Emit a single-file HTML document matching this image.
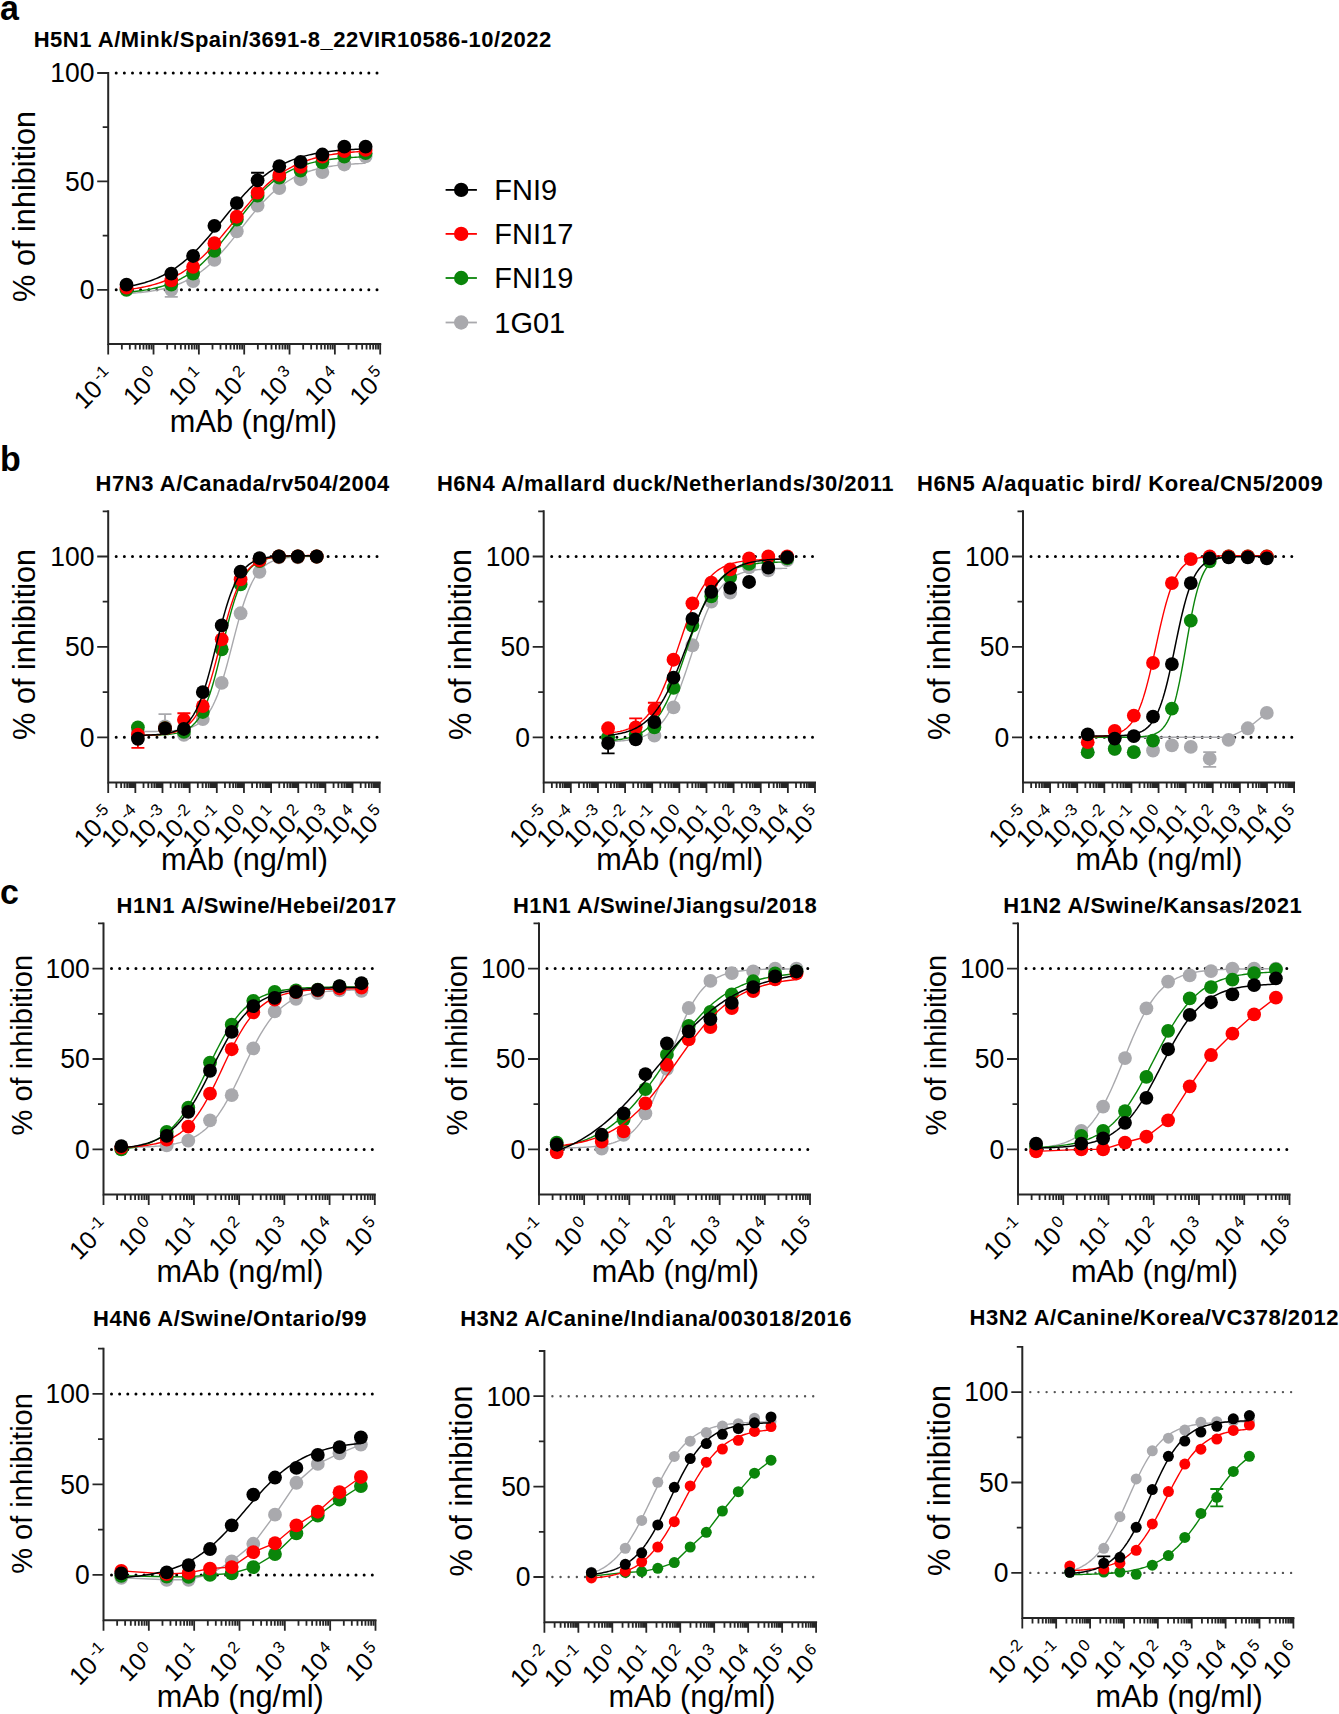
<!DOCTYPE html>
<html><head><meta charset="utf-8"><style>
html,body{margin:0;padding:0;background:#fff;overflow:hidden;}
svg{display:block;}
text{font-family:"Liberation Sans", sans-serif;fill:#000;}
</style></head><body>
<svg width="1339" height="1714" viewBox="0 0 1339 1714">
<line x1="116.2" y1="289.8" x2="381.2" y2="289.8" stroke="#000" stroke-width="3.0" stroke-linecap="round" stroke-dasharray="0 8.15"/>
<line x1="116.2" y1="73" x2="381.2" y2="73" stroke="#000" stroke-width="3.0" stroke-linecap="round" stroke-dasharray="0 8.15"/>
<path d="M108.2 73V344H380.2" fill="none" stroke="#262626" stroke-width="2.0" stroke-linecap="square"/>
<path d="M97.2 289.8H108.2M102.7 235.6H108.2M97.2 181.4H108.2M102.7 127.2H108.2M97.2 73H108.2M108.2 344v10.5M121.85 344v5.5M129.83 344v5.5M135.49 344v5.5M139.89 344v5.5M143.48 344v5.5M146.51 344v5.5M149.14 344v5.5M151.46 344v5.5M153.53 344v10.5M167.18 344v5.5M175.16 344v5.5M180.83 344v5.5M185.22 344v5.5M188.81 344v5.5M191.84 344v5.5M194.47 344v5.5M196.79 344v5.5M198.87 344v10.5M212.51 344v5.5M220.5 344v5.5M226.16 344v5.5M230.55 344v5.5M234.14 344v5.5M237.18 344v5.5M239.81 344v5.5M242.13 344v5.5M244.2 344v10.5M257.85 344v5.5M265.83 344v5.5M271.49 344v5.5M275.89 344v5.5M279.48 344v5.5M282.51 344v5.5M285.14 344v5.5M287.46 344v5.5M289.53 344v10.5M303.18 344v5.5M311.16 344v5.5M316.83 344v5.5M321.22 344v5.5M324.81 344v5.5M327.84 344v5.5M330.47 344v5.5M332.79 344v5.5M334.87 344v10.5M348.51 344v5.5M356.5 344v5.5M362.16 344v5.5M366.55 344v5.5M370.14 344v5.5M373.18 344v5.5M375.81 344v5.5M378.13 344v5.5M380.2 344v10.5" fill="none" stroke="#262626" stroke-width="1.8"/>
<text transform="translate(94.4 299.1) scale(1 1.04)" text-anchor="end" font-size="26.5">0</text>
<text transform="translate(94.4 190.7) scale(1 1.04)" text-anchor="end" font-size="26.5">50</text>
<text transform="translate(94.4 82.3) scale(1 1.04)" text-anchor="end" font-size="26.5">100</text>
<text transform="translate(116.05 378.55) rotate(-45)" text-anchor="end" font-size="25">10<tspan font-size="16.5" dx="2.5" dy="-9.3">-1</tspan></text>
<text transform="translate(161.38 378.55) rotate(-45)" text-anchor="end" font-size="25">10<tspan font-size="16.5" dx="2.5" dy="-9.3">0</tspan></text>
<text transform="translate(206.72 378.55) rotate(-45)" text-anchor="end" font-size="25">10<tspan font-size="16.5" dx="2.5" dy="-9.3">1</tspan></text>
<text transform="translate(252.05 378.55) rotate(-45)" text-anchor="end" font-size="25">10<tspan font-size="16.5" dx="2.5" dy="-9.3">2</tspan></text>
<text transform="translate(297.38 378.55) rotate(-45)" text-anchor="end" font-size="25">10<tspan font-size="16.5" dx="2.5" dy="-9.3">3</tspan></text>
<text transform="translate(342.72 378.55) rotate(-45)" text-anchor="end" font-size="25">10<tspan font-size="16.5" dx="2.5" dy="-9.3">4</tspan></text>
<text transform="translate(388.05 378.55) rotate(-45)" text-anchor="end" font-size="25">10<tspan font-size="16.5" dx="2.5" dy="-9.3">5</tspan></text>
<text x="33.7" y="46.7" font-weight="bold" font-size="22" letter-spacing="0.52">H5N1 A/Mink/Spain/3691-8_22VIR10586-10/2022</text>
<text transform="translate(35.4 206.4) rotate(-90)" text-anchor="middle" font-size="30.7">% of inhibition</text>
<text x="253.4" y="431.7" text-anchor="middle" font-size="30.7">mAb (ng/ml)</text>
<polyline points="126.5,293.61 128.51,293.48 130.52,293.34 132.53,293.19 134.54,293.03 136.55,292.86 138.56,292.67 140.56,292.47 142.57,292.25 144.58,292.02 146.59,291.77 148.6,291.5 150.61,291.21 152.62,290.89 154.63,290.56 156.64,290.2 158.65,289.81 160.66,289.4 162.67,288.95 164.68,288.47 166.68,287.96 168.69,287.41 170.7,286.83 172.71,286.2 174.72,285.53 176.73,284.81 178.74,284.04 180.75,283.23 182.76,282.36 184.77,281.44 186.78,280.45 188.79,279.41 190.8,278.3 192.81,277.13 194.81,275.89 196.82,274.59 198.83,273.21 200.84,271.75 202.85,270.22 204.86,268.62 206.87,266.94 208.88,265.19 210.89,263.36 212.9,261.45 214.91,259.48 216.92,257.43 218.93,255.31 220.93,253.12 222.94,250.87 224.95,248.57 226.96,246.2 228.97,243.8 230.98,241.34 232.99,238.86 235,236.34 237.01,233.8 239.02,231.25 241.03,228.69 243.04,226.12 245.05,223.57 247.05,221.03 249.06,218.52 251.07,216.03 253.08,213.58 255.09,211.17 257.1,208.81 259.11,206.51 261.12,204.26 263.13,202.08 265.14,199.96 267.15,197.91 269.16,195.93 271.17,194.03 273.17,192.2 275.18,190.45 277.19,188.77 279.2,187.17 281.21,185.64 283.22,184.19 285.23,182.81 287.24,181.51 289.25,180.27 291.26,179.1 293.27,177.99 295.28,176.95 297.29,175.97 299.29,175.05 301.3,174.18 303.31,173.37 305.32,172.6 307.33,171.89 309.34,171.22 311.35,170.59 313.36,170 315.37,169.46 317.38,168.95 319.39,168.47 321.4,168.02 323.41,167.61 325.42,167.22 327.42,166.86 329.43,166.53 331.44,166.22 333.45,165.93 335.46,165.66 337.47,165.41 339.48,165.17 341.49,164.96 343.5,164.76 345.51,164.57 347.52,164.4 349.53,164.24 351.54,164.09 353.54,163.95 355.55,163.82 357.56,163.7 359.57,163.59 361.58,163.49 363.59,163.39 365.6,163.3" fill="none" stroke="#a9a9ad" stroke-width="1.4"/>
<path d="M171.3 296.95V289.8M164.8 296.95h13" stroke="#a9a9ad" stroke-width="1.8" fill="none"/>
<circle cx="126.5" cy="288.72" r="6.9" fill="#a9a9ad"/>
<circle cx="171.3" cy="289.8" r="6.9" fill="#a9a9ad"/>
<circle cx="193.1" cy="281.13" r="6.9" fill="#a9a9ad"/>
<circle cx="214.4" cy="259.88" r="6.9" fill="#a9a9ad"/>
<circle cx="236.8" cy="231.26" r="6.9" fill="#a9a9ad"/>
<circle cx="257.6" cy="205.68" r="6.9" fill="#a9a9ad"/>
<circle cx="279.3" cy="188.12" r="6.9" fill="#a9a9ad"/>
<circle cx="300.6" cy="179.23" r="6.9" fill="#a9a9ad"/>
<circle cx="322.4" cy="172.08" r="6.9" fill="#a9a9ad"/>
<circle cx="344.3" cy="164.49" r="6.9" fill="#a9a9ad"/>
<circle cx="365.6" cy="156.47" r="6.9" fill="#a9a9ad"/>
<polyline points="126.5,292.25 128.51,292.07 130.52,291.89 132.53,291.69 134.54,291.48 136.55,291.25 138.56,291 140.56,290.74 142.57,290.45 144.58,290.15 146.59,289.82 148.6,289.46 150.61,289.08 152.62,288.67 154.63,288.23 156.64,287.76 158.65,287.26 160.66,286.72 162.67,286.14 164.68,285.52 166.68,284.86 168.69,284.15 170.7,283.4 172.71,282.59 174.72,281.73 176.73,280.81 178.74,279.84 180.75,278.81 182.76,277.71 184.77,276.54 186.78,275.31 188.79,274.01 190.8,272.63 192.81,271.18 194.81,269.66 196.82,268.05 198.83,266.37 200.84,264.61 202.85,262.77 204.86,260.85 206.87,258.85 208.88,256.78 210.89,254.63 212.9,252.42 214.91,250.13 216.92,247.78 218.93,245.37 220.93,242.91 222.94,240.39 224.95,237.84 226.96,235.24 228.97,232.62 230.98,229.98 232.99,227.32 235,224.65 237.01,221.99 239.02,219.34 241.03,216.7 243.04,214.09 245.05,211.51 247.05,208.97 249.06,206.47 251.07,204.03 253.08,201.64 255.09,199.32 257.1,197.06 259.11,194.86 261.12,192.75 263.13,190.7 265.14,188.74 267.15,186.85 269.16,185.04 271.17,183.31 273.17,181.66 275.18,180.08 277.19,178.59 279.2,177.16 281.21,175.82 283.22,174.54 285.23,173.34 287.24,172.2 289.25,171.12 291.26,170.11 293.27,169.16 295.28,168.27 297.29,167.43 299.29,166.64 301.3,165.91 303.31,165.22 305.32,164.57 307.33,163.97 309.34,163.41 311.35,162.88 313.36,162.39 315.37,161.93 317.38,161.5 319.39,161.11 321.4,160.73 323.41,160.39 325.42,160.07 327.42,159.77 329.43,159.49 331.44,159.24 333.45,159 335.46,158.77 337.47,158.57 339.48,158.37 341.49,158.2 343.5,158.03 345.51,157.88 347.52,157.73 349.53,157.6 351.54,157.48 353.54,157.36 355.55,157.26 357.56,157.16 359.57,157.07 361.58,156.99 363.59,156.91 365.6,156.84" fill="none" stroke="#0a850a" stroke-width="1.4"/>
<circle cx="126.5" cy="289.8" r="6.9" fill="#0a850a"/>
<circle cx="171.3" cy="284.6" r="6.9" fill="#0a850a"/>
<circle cx="193.1" cy="273.54" r="6.9" fill="#0a850a"/>
<circle cx="214.4" cy="250.78" r="6.9" fill="#0a850a"/>
<circle cx="236.8" cy="219.56" r="6.9" fill="#0a850a"/>
<circle cx="257.6" cy="195.71" r="6.9" fill="#0a850a"/>
<circle cx="279.3" cy="177.71" r="6.9" fill="#0a850a"/>
<circle cx="300.6" cy="170.56" r="6.9" fill="#0a850a"/>
<circle cx="322.4" cy="162.32" r="6.9" fill="#0a850a"/>
<circle cx="344.3" cy="156.68" r="6.9" fill="#0a850a"/>
<circle cx="365.6" cy="153.22" r="6.9" fill="#0a850a"/>
<polyline points="126.5,289.75 128.51,289.51 130.52,289.25 132.53,288.97 134.54,288.67 136.55,288.35 138.56,288.01 140.56,287.65 142.57,287.27 144.58,286.86 146.59,286.42 148.6,285.96 150.61,285.46 152.62,284.94 154.63,284.38 156.64,283.79 158.65,283.16 160.66,282.49 162.67,281.78 164.68,281.03 166.68,280.24 168.69,279.4 170.7,278.51 172.71,277.57 174.72,276.58 176.73,275.53 178.74,274.43 180.75,273.28 182.76,272.06 184.77,270.78 186.78,269.44 188.79,268.04 190.8,266.58 192.81,265.04 194.81,263.45 196.82,261.78 198.83,260.06 200.84,258.26 202.85,256.41 204.86,254.48 206.87,252.5 208.88,250.46 210.89,248.36 212.9,246.2 214.91,244 216.92,241.74 218.93,239.44 220.93,237.1 222.94,234.73 224.95,232.32 226.96,229.89 228.97,227.44 230.98,224.98 232.99,222.5 235,220.03 237.01,217.56 239.02,215.1 241.03,212.65 243.04,210.22 245.05,207.82 247.05,205.45 249.06,203.12 251.07,200.83 253.08,198.58 255.09,196.38 257.1,194.24 259.11,192.15 261.12,190.12 263.13,188.14 265.14,186.23 267.15,184.39 269.16,182.61 271.17,180.89 273.17,179.24 275.18,177.66 277.19,176.14 279.2,174.68 281.21,173.29 283.22,171.96 285.23,170.7 287.24,169.49 289.25,168.35 291.26,167.26 293.27,166.22 295.28,165.24 297.29,164.31 299.29,163.43 301.3,162.6 303.31,161.81 305.32,161.07 307.33,160.37 309.34,159.71 311.35,159.09 313.36,158.5 315.37,157.95 317.38,157.43 319.39,156.94 321.4,156.48 323.41,156.05 325.42,155.65 327.42,155.27 329.43,154.91 331.44,154.57 333.45,154.26 335.46,153.97 337.47,153.69 339.48,153.43 341.49,153.19 343.5,152.96 345.51,152.75 347.52,152.55 349.53,152.37 351.54,152.19 353.54,152.03 355.55,151.88 357.56,151.74 359.57,151.6 361.58,151.48 363.59,151.36 365.6,151.25" fill="none" stroke="#ff0000" stroke-width="1.4"/>
<circle cx="126.5" cy="287.63" r="6.9" fill="#ff0000"/>
<circle cx="171.3" cy="280.26" r="6.9" fill="#ff0000"/>
<circle cx="193.1" cy="266.82" r="6.9" fill="#ff0000"/>
<circle cx="214.4" cy="243.19" r="6.9" fill="#ff0000"/>
<circle cx="236.8" cy="216.74" r="6.9" fill="#ff0000"/>
<circle cx="257.6" cy="192.67" r="6.9" fill="#ff0000"/>
<circle cx="279.3" cy="174.9" r="6.9" fill="#ff0000"/>
<circle cx="300.6" cy="166.87" r="6.9" fill="#ff0000"/>
<circle cx="322.4" cy="156.68" r="6.9" fill="#ff0000"/>
<circle cx="344.3" cy="151.05" r="6.9" fill="#ff0000"/>
<circle cx="365.6" cy="149.96" r="6.9" fill="#ff0000"/>
<polyline points="126.5,286.87 128.51,286.51 130.52,286.13 132.53,285.73 134.54,285.3 136.55,284.84 138.56,284.35 140.56,283.83 142.57,283.27 144.58,282.69 146.59,282.06 148.6,281.4 150.61,280.7 152.62,279.96 154.63,279.17 156.64,278.34 158.65,277.46 160.66,276.54 162.67,275.56 164.68,274.53 166.68,273.44 168.69,272.29 170.7,271.09 172.71,269.83 174.72,268.51 176.73,267.12 178.74,265.67 180.75,264.16 182.76,262.58 184.77,260.94 186.78,259.23 188.79,257.46 190.8,255.62 192.81,253.72 194.81,251.75 196.82,249.73 198.83,247.65 200.84,245.51 202.85,243.32 204.86,241.08 206.87,238.8 208.88,236.48 210.89,234.11 212.9,231.72 214.91,229.3 216.92,226.86 218.93,224.4 220.93,221.93 222.94,219.46 224.95,216.98 226.96,214.52 228.97,212.07 230.98,209.63 232.99,207.22 235,204.84 237.01,202.49 239.02,200.18 241.03,197.92 243.04,195.7 245.05,193.53 247.05,191.41 249.06,189.35 251.07,187.36 253.08,185.42 255.09,183.54 257.1,181.73 259.11,179.98 261.12,178.3 263.13,176.68 265.14,175.13 267.15,173.64 269.16,172.22 271.17,170.86 273.17,169.56 275.18,168.32 277.19,167.14 279.2,166.02 281.21,164.96 283.22,163.95 285.23,162.99 287.24,162.08 289.25,161.22 291.26,160.41 293.27,159.64 295.28,158.92 297.29,158.23 299.29,157.59 301.3,156.98 303.31,156.4 305.32,155.87 307.33,155.36 309.34,154.88 311.35,154.43 313.36,154.01 315.37,153.61 317.38,153.24 319.39,152.89 321.4,152.57 323.41,152.26 325.42,151.97 327.42,151.7 329.43,151.45 331.44,151.21 333.45,150.99 335.46,150.78 337.47,150.59 339.48,150.4 341.49,150.23 343.5,150.07 345.51,149.92 347.52,149.78 349.53,149.65 351.54,149.53 353.54,149.42 355.55,149.31 357.56,149.21 359.57,149.11 361.58,149.03 363.59,148.95 365.6,148.87" fill="none" stroke="#000000" stroke-width="1.5"/>
<path d="M257.6 180.32V172.73M251.1 172.73h13" stroke="#000000" stroke-width="1.8" fill="none"/>
<circle cx="126.5" cy="284.6" r="6.9" fill="#000000"/>
<circle cx="171.3" cy="273.54" r="6.9" fill="#000000"/>
<circle cx="193.1" cy="255.98" r="6.9" fill="#000000"/>
<circle cx="214.4" cy="225.84" r="6.9" fill="#000000"/>
<circle cx="236.8" cy="203.08" r="6.9" fill="#000000"/>
<circle cx="257.6" cy="180.32" r="6.9" fill="#000000"/>
<circle cx="279.3" cy="166.22" r="6.9" fill="#000000"/>
<circle cx="300.6" cy="161.89" r="6.9" fill="#000000"/>
<circle cx="322.4" cy="154.52" r="6.9" fill="#000000"/>
<circle cx="344.3" cy="146.71" r="6.9" fill="#000000"/>
<circle cx="365.6" cy="146.71" r="6.9" fill="#000000"/>
<line x1="116.2" y1="737.3" x2="380.7" y2="737.3" stroke="#000" stroke-width="3.0" stroke-linecap="round" stroke-dasharray="0 8.15"/>
<line x1="116.2" y1="556.5" x2="380.7" y2="556.5" stroke="#000" stroke-width="3.0" stroke-linecap="round" stroke-dasharray="0 8.15"/>
<path d="M108.2 511.3V782.5H379.7" fill="none" stroke="#262626" stroke-width="2.0" stroke-linecap="square"/>
<path d="M97.2 737.3H108.2M102.7 692.1H108.2M97.2 646.9H108.2M102.7 601.7H108.2M97.2 556.5H108.2M102.7 511.3H108.2M108.2 782.5v10.5M116.37 782.5v5.5M121.15 782.5v5.5M124.55 782.5v5.5M127.18 782.5v5.5M129.33 782.5v5.5M131.14 782.5v5.5M132.72 782.5v5.5M134.11 782.5v5.5M135.35 782.5v10.5M143.52 782.5v5.5M148.3 782.5v5.5M151.7 782.5v5.5M154.33 782.5v5.5M156.48 782.5v5.5M158.29 782.5v5.5M159.87 782.5v5.5M161.26 782.5v5.5M162.5 782.5v10.5M170.67 782.5v5.5M175.45 782.5v5.5M178.85 782.5v5.5M181.48 782.5v5.5M183.63 782.5v5.5M185.44 782.5v5.5M187.02 782.5v5.5M188.41 782.5v5.5M189.65 782.5v10.5M197.82 782.5v5.5M202.6 782.5v5.5M206 782.5v5.5M208.63 782.5v5.5M210.78 782.5v5.5M212.59 782.5v5.5M214.17 782.5v5.5M215.56 782.5v5.5M216.8 782.5v10.5M224.97 782.5v5.5M229.75 782.5v5.5M233.15 782.5v5.5M235.78 782.5v5.5M237.93 782.5v5.5M239.74 782.5v5.5M241.32 782.5v5.5M242.71 782.5v5.5M243.95 782.5v10.5M252.12 782.5v5.5M256.9 782.5v5.5M260.3 782.5v5.5M262.93 782.5v5.5M265.08 782.5v5.5M266.89 782.5v5.5M268.47 782.5v5.5M269.86 782.5v5.5M271.1 782.5v10.5M279.27 782.5v5.5M284.05 782.5v5.5M287.45 782.5v5.5M290.08 782.5v5.5M292.23 782.5v5.5M294.04 782.5v5.5M295.62 782.5v5.5M297.01 782.5v5.5M298.25 782.5v10.5M306.42 782.5v5.5M311.2 782.5v5.5M314.6 782.5v5.5M317.23 782.5v5.5M319.38 782.5v5.5M321.19 782.5v5.5M322.77 782.5v5.5M324.16 782.5v5.5M325.4 782.5v10.5M333.57 782.5v5.5M338.35 782.5v5.5M341.75 782.5v5.5M344.38 782.5v5.5M346.53 782.5v5.5M348.34 782.5v5.5M349.92 782.5v5.5M351.31 782.5v5.5M352.55 782.5v10.5M360.72 782.5v5.5M365.5 782.5v5.5M368.9 782.5v5.5M371.53 782.5v5.5M373.68 782.5v5.5M375.49 782.5v5.5M377.07 782.5v5.5M378.46 782.5v5.5M379.7 782.5v10.5" fill="none" stroke="#262626" stroke-width="1.8"/>
<text transform="translate(94.4 746.6) scale(1 1.04)" text-anchor="end" font-size="26.5">0</text>
<text transform="translate(94.4 656.2) scale(1 1.04)" text-anchor="end" font-size="26.5">50</text>
<text transform="translate(94.4 565.8) scale(1 1.04)" text-anchor="end" font-size="26.5">100</text>
<text transform="translate(116.05 817.05) rotate(-45)" text-anchor="end" font-size="25">10<tspan font-size="16.5" dx="2.5" dy="-9.3">-5</tspan></text>
<text transform="translate(143.2 817.05) rotate(-45)" text-anchor="end" font-size="25">10<tspan font-size="16.5" dx="2.5" dy="-9.3">-4</tspan></text>
<text transform="translate(170.35 817.05) rotate(-45)" text-anchor="end" font-size="25">10<tspan font-size="16.5" dx="2.5" dy="-9.3">-3</tspan></text>
<text transform="translate(197.5 817.05) rotate(-45)" text-anchor="end" font-size="25">10<tspan font-size="16.5" dx="2.5" dy="-9.3">-2</tspan></text>
<text transform="translate(224.65 817.05) rotate(-45)" text-anchor="end" font-size="25">10<tspan font-size="16.5" dx="2.5" dy="-9.3">-1</tspan></text>
<text transform="translate(251.8 817.05) rotate(-45)" text-anchor="end" font-size="25">10<tspan font-size="16.5" dx="2.5" dy="-9.3">0</tspan></text>
<text transform="translate(278.95 817.05) rotate(-45)" text-anchor="end" font-size="25">10<tspan font-size="16.5" dx="2.5" dy="-9.3">1</tspan></text>
<text transform="translate(306.1 817.05) rotate(-45)" text-anchor="end" font-size="25">10<tspan font-size="16.5" dx="2.5" dy="-9.3">2</tspan></text>
<text transform="translate(333.25 817.05) rotate(-45)" text-anchor="end" font-size="25">10<tspan font-size="16.5" dx="2.5" dy="-9.3">3</tspan></text>
<text transform="translate(360.4 817.05) rotate(-45)" text-anchor="end" font-size="25">10<tspan font-size="16.5" dx="2.5" dy="-9.3">4</tspan></text>
<text transform="translate(387.55 817.05) rotate(-45)" text-anchor="end" font-size="25">10<tspan font-size="16.5" dx="2.5" dy="-9.3">5</tspan></text>
<text x="95.6" y="491.1" font-weight="bold" font-size="22" letter-spacing="0.52">H7N3 A/Canada/rv504/2004</text>
<text transform="translate(35.4 644.4) rotate(-90)" text-anchor="middle" font-size="30.7">% of inhibition</text>
<text x="244.45" y="870.4" text-anchor="middle" font-size="30.7">mAb (ng/ml)</text>
<polyline points="137.9,731.59 139.4,731.58 140.91,731.58 142.41,731.57 143.91,731.56 145.41,731.55 146.92,731.54 148.42,731.53 149.92,731.51 151.42,731.5 152.93,731.48 154.43,731.46 155.93,731.43 157.43,731.41 158.94,731.38 160.44,731.34 161.94,731.3 163.44,731.25 164.95,731.2 166.45,731.14 167.95,731.07 169.45,730.99 170.96,730.9 172.46,730.79 173.96,730.67 175.46,730.54 176.97,730.38 178.47,730.21 179.97,730.01 181.47,729.78 182.98,729.51 184.48,729.22 185.98,728.88 187.48,728.49 188.99,728.05 190.49,727.55 191.99,726.98 193.49,726.34 195,725.6 196.5,724.78 198,723.84 199.5,722.78 201.01,721.58 202.51,720.24 204.01,718.73 205.51,717.03 207.02,715.14 208.52,713.03 210.02,710.68 211.52,708.08 213.03,705.22 214.53,702.07 216.03,698.63 217.53,694.9 219.04,690.86 220.54,686.52 222.04,681.89 223.54,676.99 225.05,671.83 226.55,666.45 228.05,660.89 229.55,655.17 231.06,649.36 232.56,643.5 234.06,637.65 235.56,631.85 237.07,626.16 238.57,620.62 240.07,615.27 241.57,610.16 243.08,605.3 244.58,600.72 246.08,596.44 247.58,592.45 249.09,588.77 250.59,585.38 252.09,582.29 253.59,579.47 255.1,576.91 256.6,574.61 258.1,572.54 259.6,570.68 261.11,569.02 262.61,567.54 264.11,566.22 265.61,565.05 267.12,564.01 268.62,563.09 270.12,562.28 271.62,561.56 273.13,560.93 274.63,560.38 276.13,559.89 277.63,559.46 279.14,559.08 280.64,558.75 282.14,558.45 283.64,558.2 285.15,557.97 286.65,557.78 288.15,557.6 289.65,557.45 291.16,557.32 292.66,557.21 294.16,557.1 295.66,557.01 297.17,556.94 298.67,556.87 300.17,556.81 301.67,556.76 303.18,556.71 304.68,556.67 306.18,556.64 307.68,556.61 309.19,556.58 310.69,556.55 312.19,556.53 313.69,556.52 315.2,556.5 316.7,556.49" fill="none" stroke="#a9a9ad" stroke-width="1.4"/>
<path d="M165 726.45V714.16M158.5 714.16h13" stroke="#a9a9ad" stroke-width="1.8" fill="none"/>
<circle cx="137.9" cy="731.88" r="6.9" fill="#a9a9ad"/>
<circle cx="165" cy="726.45" r="6.9" fill="#a9a9ad"/>
<circle cx="183.9" cy="734.77" r="6.9" fill="#a9a9ad"/>
<circle cx="202.8" cy="719.04" r="6.9" fill="#a9a9ad"/>
<circle cx="221.7" cy="682.88" r="6.9" fill="#a9a9ad"/>
<circle cx="240.6" cy="613.27" r="6.9" fill="#a9a9ad"/>
<circle cx="259.5" cy="571.87" r="6.9" fill="#a9a9ad"/>
<circle cx="278.9" cy="557.4" r="6.9" fill="#a9a9ad"/>
<circle cx="297.8" cy="557.4" r="6.9" fill="#a9a9ad"/>
<circle cx="316.7" cy="556.86" r="6.9" fill="#a9a9ad"/>
<polyline points="137.9,735.43 139.4,735.42 140.91,735.41 142.41,735.4 143.91,735.38 145.41,735.37 146.92,735.35 148.42,735.33 149.92,735.3 151.42,735.27 152.93,735.24 154.43,735.2 155.93,735.15 157.43,735.1 158.94,735.04 160.44,734.98 161.94,734.9 163.44,734.81 164.95,734.71 166.45,734.59 167.95,734.45 169.45,734.29 170.96,734.11 172.46,733.91 173.96,733.67 175.46,733.39 176.97,733.08 178.47,732.72 179.97,732.3 181.47,731.83 182.98,731.29 184.48,730.66 185.98,729.95 187.48,729.14 188.99,728.22 190.49,727.16 191.99,725.97 193.49,724.61 195,723.07 196.5,721.33 198,719.37 199.5,717.18 201.01,714.72 202.51,711.98 204.01,708.93 205.51,705.57 207.02,701.88 208.52,697.85 210.02,693.47 211.52,688.75 213.03,683.7 214.53,678.34 216.03,672.7 217.53,666.82 219.04,660.74 220.54,654.51 222.04,648.19 223.54,641.85 225.05,635.55 226.55,629.36 228.05,623.32 229.55,617.48 231.06,611.91 232.56,606.62 234.06,601.65 235.56,597.01 237.07,592.71 238.57,588.76 240.07,585.15 241.57,581.87 243.08,578.9 244.58,576.23 246.08,573.83 247.58,571.7 249.09,569.79 250.59,568.1 252.09,566.61 253.59,565.29 255.1,564.13 256.6,563.11 258.1,562.21 259.6,561.43 261.11,560.74 262.61,560.14 264.11,559.61 265.61,559.15 267.12,558.75 268.62,558.4 270.12,558.1 271.62,557.83 273.13,557.6 274.63,557.4 276.13,557.23 277.63,557.07 279.14,556.94 280.64,556.83 282.14,556.73 283.64,556.64 285.15,556.56 286.65,556.5 288.15,556.44 289.65,556.39 291.16,556.35 292.66,556.31 294.16,556.28 295.66,556.25 297.17,556.23 298.67,556.21 300.17,556.19 301.67,556.17 303.18,556.16 304.68,556.15 306.18,556.14 307.68,556.13 309.19,556.12 310.69,556.11 312.19,556.11 313.69,556.1 315.2,556.1 316.7,556.09" fill="none" stroke="#0a850a" stroke-width="1.4"/>
<circle cx="137.9" cy="727.36" r="6.9" fill="#0a850a"/>
<circle cx="165" cy="728.26" r="6.9" fill="#0a850a"/>
<circle cx="183.9" cy="731.88" r="6.9" fill="#0a850a"/>
<circle cx="202.8" cy="711.99" r="6.9" fill="#0a850a"/>
<circle cx="221.7" cy="649.25" r="6.9" fill="#0a850a"/>
<circle cx="240.6" cy="584.34" r="6.9" fill="#0a850a"/>
<circle cx="259.5" cy="561.02" r="6.9" fill="#0a850a"/>
<circle cx="278.9" cy="556.5" r="6.9" fill="#0a850a"/>
<circle cx="297.8" cy="556.5" r="6.9" fill="#0a850a"/>
<circle cx="316.7" cy="556.5" r="6.9" fill="#0a850a"/>
<polyline points="137.9,735.35 139.4,735.33 140.91,735.31 142.41,735.28 143.91,735.25 145.41,735.22 146.92,735.18 148.42,735.14 149.92,735.09 151.42,735.04 152.93,734.97 154.43,734.9 155.93,734.82 157.43,734.72 158.94,734.62 160.44,734.49 161.94,734.35 163.44,734.2 164.95,734.02 166.45,733.81 167.95,733.58 169.45,733.32 170.96,733.02 172.46,732.68 173.96,732.29 175.46,731.85 176.97,731.35 178.47,730.79 179.97,730.15 181.47,729.43 182.98,728.62 184.48,727.7 185.98,726.66 187.48,725.5 188.99,724.19 190.49,722.72 191.99,721.08 193.49,719.24 195,717.2 196.5,714.94 198,712.43 199.5,709.67 201.01,706.64 202.51,703.33 204.01,699.72 205.51,695.82 207.02,691.63 208.52,687.14 210.02,682.38 211.52,677.35 213.03,672.09 214.53,666.62 216.03,660.97 217.53,655.2 219.04,649.35 220.54,643.46 222.04,637.59 223.54,631.79 225.05,626.1 226.55,620.57 228.05,615.24 229.55,610.14 231.06,605.29 232.56,600.71 234.06,596.43 235.56,592.44 237.07,588.74 238.57,585.34 240.07,582.22 241.57,579.38 243.08,576.79 244.58,574.45 246.08,572.34 247.58,570.45 249.09,568.75 250.59,567.23 252.09,565.87 253.59,564.66 255.1,563.58 256.6,562.63 258.1,561.78 259.6,561.03 261.11,560.37 262.61,559.78 264.11,559.27 265.61,558.81 267.12,558.41 268.62,558.06 270.12,557.74 271.62,557.47 273.13,557.23 274.63,557.01 276.13,556.83 277.63,556.66 279.14,556.52 280.64,556.39 282.14,556.28 283.64,556.18 285.15,556.1 286.65,556.02 288.15,555.95 289.65,555.9 291.16,555.85 292.66,555.8 294.16,555.76 295.66,555.73 297.17,555.7 298.67,555.67 300.17,555.65 301.67,555.63 303.18,555.61 304.68,555.59 306.18,555.58 307.68,555.57 309.19,555.56 310.69,555.55 312.19,555.54 313.69,555.53 315.2,555.52 316.7,555.52" fill="none" stroke="#ff0000" stroke-width="1.4"/>
<path d="M137.9 747.79V734.59M131.4 747.79h13" stroke="#ff0000" stroke-width="1.8" fill="none"/>
<path d="M183.9 719.76V713.25M177.4 713.25h13" stroke="#ff0000" stroke-width="1.8" fill="none"/>
<circle cx="137.9" cy="734.59" r="6.9" fill="#ff0000"/>
<circle cx="165" cy="728.44" r="6.9" fill="#ff0000"/>
<circle cx="183.9" cy="719.76" r="6.9" fill="#ff0000"/>
<circle cx="202.8" cy="706.2" r="6.9" fill="#ff0000"/>
<circle cx="221.7" cy="639.31" r="6.9" fill="#ff0000"/>
<circle cx="240.6" cy="579.28" r="6.9" fill="#ff0000"/>
<circle cx="259.5" cy="560.48" r="6.9" fill="#ff0000"/>
<circle cx="278.9" cy="556.5" r="6.9" fill="#ff0000"/>
<circle cx="297.8" cy="556.5" r="6.9" fill="#ff0000"/>
<circle cx="316.7" cy="556.5" r="6.9" fill="#ff0000"/>
<polyline points="137.9,735.28 139.4,735.26 140.91,735.23 142.41,735.2 143.91,735.17 145.41,735.13 146.92,735.09 148.42,735.04 149.92,734.98 151.42,734.91 152.93,734.84 154.43,734.75 155.93,734.65 157.43,734.54 158.94,734.41 160.44,734.26 161.94,734.09 163.44,733.9 164.95,733.68 166.45,733.43 167.95,733.14 169.45,732.81 170.96,732.44 172.46,732.01 173.96,731.53 175.46,730.97 176.97,730.34 178.47,729.63 179.97,728.82 181.47,727.9 182.98,726.86 184.48,725.68 185.98,724.35 187.48,722.85 188.99,721.17 190.49,719.29 191.99,717.18 193.49,714.84 195,712.24 196.5,709.36 198,706.19 199.5,702.72 201.01,698.93 202.51,694.83 204.01,690.41 205.51,685.69 207.02,680.67 208.52,675.38 210.02,669.84 211.52,664.1 213.03,658.19 214.53,652.17 216.03,646.1 217.53,640.01 219.04,633.98 220.54,628.05 222.04,622.27 223.54,616.69 225.05,611.35 226.55,606.28 228.05,601.5 229.55,597.02 231.06,592.86 232.56,589.02 234.06,585.49 235.56,582.27 237.07,579.34 238.57,576.68 240.07,574.29 241.57,572.14 243.08,570.22 244.58,568.5 246.08,566.97 247.58,565.62 249.09,564.41 250.59,563.35 252.09,562.4 253.59,561.57 255.1,560.84 256.6,560.2 258.1,559.63 259.6,559.13 261.11,558.7 262.61,558.31 264.11,557.98 265.61,557.68 267.12,557.42 268.62,557.2 270.12,557 271.62,556.83 273.13,556.67 274.63,556.54 276.13,556.43 277.63,556.33 279.14,556.24 280.64,556.16 282.14,556.09 283.64,556.03 285.15,555.98 286.65,555.94 288.15,555.9 289.65,555.86 291.16,555.83 292.66,555.81 294.16,555.78 295.66,555.76 297.17,555.74 298.67,555.73 300.17,555.72 301.67,555.7 303.18,555.69 304.68,555.69 306.18,555.68 307.68,555.67 309.19,555.66 310.69,555.66 312.19,555.66 313.69,555.65 315.2,555.65 316.7,555.64" fill="none" stroke="#000000" stroke-width="1.5"/>
<circle cx="137.9" cy="738.75" r="6.9" fill="#000000"/>
<circle cx="165" cy="728.44" r="6.9" fill="#000000"/>
<circle cx="183.9" cy="728.98" r="6.9" fill="#000000"/>
<circle cx="202.8" cy="692.1" r="6.9" fill="#000000"/>
<circle cx="221.7" cy="625.38" r="6.9" fill="#000000"/>
<circle cx="240.6" cy="571.69" r="6.9" fill="#000000"/>
<circle cx="259.5" cy="558.13" r="6.9" fill="#000000"/>
<circle cx="278.9" cy="556.5" r="6.9" fill="#000000"/>
<circle cx="297.8" cy="556.5" r="6.9" fill="#000000"/>
<circle cx="316.7" cy="556.5" r="6.9" fill="#000000"/>
<line x1="551.7" y1="737.3" x2="816" y2="737.3" stroke="#000" stroke-width="3.0" stroke-linecap="round" stroke-dasharray="0 8.15"/>
<line x1="551.7" y1="556.5" x2="816" y2="556.5" stroke="#000" stroke-width="3.0" stroke-linecap="round" stroke-dasharray="0 8.15"/>
<path d="M543.7 511.3V782.5H815" fill="none" stroke="#262626" stroke-width="2.0" stroke-linecap="square"/>
<path d="M532.7 737.3H543.7M538.2 692.1H543.7M532.7 646.9H543.7M538.2 601.7H543.7M532.7 556.5H543.7M538.2 511.3H543.7M543.7 782.5v10.5M551.87 782.5v5.5M556.64 782.5v5.5M560.03 782.5v5.5M562.66 782.5v5.5M564.81 782.5v5.5M566.63 782.5v5.5M568.2 782.5v5.5M569.59 782.5v5.5M570.83 782.5v10.5M579 782.5v5.5M583.77 782.5v5.5M587.16 782.5v5.5M589.79 782.5v5.5M591.94 782.5v5.5M593.76 782.5v5.5M595.33 782.5v5.5M596.72 782.5v5.5M597.96 782.5v10.5M606.13 782.5v5.5M610.9 782.5v5.5M614.29 782.5v5.5M616.92 782.5v5.5M619.07 782.5v5.5M620.89 782.5v5.5M622.46 782.5v5.5M623.85 782.5v5.5M625.09 782.5v10.5M633.26 782.5v5.5M638.03 782.5v5.5M641.42 782.5v5.5M644.05 782.5v5.5M646.2 782.5v5.5M648.02 782.5v5.5M649.59 782.5v5.5M650.98 782.5v5.5M652.22 782.5v10.5M660.39 782.5v5.5M665.16 782.5v5.5M668.55 782.5v5.5M671.18 782.5v5.5M673.33 782.5v5.5M675.15 782.5v5.5M676.72 782.5v5.5M678.11 782.5v5.5M679.35 782.5v10.5M687.52 782.5v5.5M692.29 782.5v5.5M695.68 782.5v5.5M698.31 782.5v5.5M700.46 782.5v5.5M702.28 782.5v5.5M703.85 782.5v5.5M705.24 782.5v5.5M706.48 782.5v10.5M714.65 782.5v5.5M719.42 782.5v5.5M722.81 782.5v5.5M725.44 782.5v5.5M727.59 782.5v5.5M729.41 782.5v5.5M730.98 782.5v5.5M732.37 782.5v5.5M733.61 782.5v10.5M741.78 782.5v5.5M746.55 782.5v5.5M749.94 782.5v5.5M752.57 782.5v5.5M754.72 782.5v5.5M756.54 782.5v5.5M758.11 782.5v5.5M759.5 782.5v5.5M760.74 782.5v10.5M768.91 782.5v5.5M773.68 782.5v5.5M777.07 782.5v5.5M779.7 782.5v5.5M781.85 782.5v5.5M783.67 782.5v5.5M785.24 782.5v5.5M786.63 782.5v5.5M787.87 782.5v10.5M796.04 782.5v5.5M800.81 782.5v5.5M804.2 782.5v5.5M806.83 782.5v5.5M808.98 782.5v5.5M810.8 782.5v5.5M812.37 782.5v5.5M813.76 782.5v5.5M815 782.5v10.5" fill="none" stroke="#262626" stroke-width="1.8"/>
<text transform="translate(529.9 746.6) scale(1 1.04)" text-anchor="end" font-size="26.5">0</text>
<text transform="translate(529.9 656.2) scale(1 1.04)" text-anchor="end" font-size="26.5">50</text>
<text transform="translate(529.9 565.8) scale(1 1.04)" text-anchor="end" font-size="26.5">100</text>
<text transform="translate(551.55 817.05) rotate(-45)" text-anchor="end" font-size="25">10<tspan font-size="16.5" dx="2.5" dy="-9.3">-5</tspan></text>
<text transform="translate(578.68 817.05) rotate(-45)" text-anchor="end" font-size="25">10<tspan font-size="16.5" dx="2.5" dy="-9.3">-4</tspan></text>
<text transform="translate(605.81 817.05) rotate(-45)" text-anchor="end" font-size="25">10<tspan font-size="16.5" dx="2.5" dy="-9.3">-3</tspan></text>
<text transform="translate(632.94 817.05) rotate(-45)" text-anchor="end" font-size="25">10<tspan font-size="16.5" dx="2.5" dy="-9.3">-2</tspan></text>
<text transform="translate(660.07 817.05) rotate(-45)" text-anchor="end" font-size="25">10<tspan font-size="16.5" dx="2.5" dy="-9.3">-1</tspan></text>
<text transform="translate(687.2 817.05) rotate(-45)" text-anchor="end" font-size="25">10<tspan font-size="16.5" dx="2.5" dy="-9.3">0</tspan></text>
<text transform="translate(714.33 817.05) rotate(-45)" text-anchor="end" font-size="25">10<tspan font-size="16.5" dx="2.5" dy="-9.3">1</tspan></text>
<text transform="translate(741.46 817.05) rotate(-45)" text-anchor="end" font-size="25">10<tspan font-size="16.5" dx="2.5" dy="-9.3">2</tspan></text>
<text transform="translate(768.59 817.05) rotate(-45)" text-anchor="end" font-size="25">10<tspan font-size="16.5" dx="2.5" dy="-9.3">3</tspan></text>
<text transform="translate(795.72 817.05) rotate(-45)" text-anchor="end" font-size="25">10<tspan font-size="16.5" dx="2.5" dy="-9.3">4</tspan></text>
<text transform="translate(822.85 817.05) rotate(-45)" text-anchor="end" font-size="25">10<tspan font-size="16.5" dx="2.5" dy="-9.3">5</tspan></text>
<text x="436.9" y="491.2" font-weight="bold" font-size="22" letter-spacing="0.52">H6N4 A/mallard duck/Netherlands/30/2011</text>
<text transform="translate(470.9 644.4) rotate(-90)" text-anchor="middle" font-size="30.7">% of inhibition</text>
<text x="679.75" y="870.4" text-anchor="middle" font-size="30.7">mAb (ng/ml)</text>
<polyline points="608.1,741.68 609.61,741.63 611.11,741.57 612.62,741.5 614.12,741.42 615.63,741.34 617.13,741.24 618.64,741.14 620.14,741.02 621.65,740.89 623.15,740.75 624.66,740.59 626.16,740.42 627.67,740.22 629.17,740 630.68,739.77 632.18,739.5 633.69,739.21 635.19,738.88 636.7,738.52 638.2,738.12 639.71,737.68 641.21,737.19 642.72,736.65 644.22,736.05 645.73,735.39 647.23,734.67 648.74,733.87 650.24,732.99 651.75,732.03 653.25,730.97 654.76,729.8 656.26,728.53 657.77,727.14 659.27,725.62 660.78,723.96 662.28,722.16 663.79,720.21 665.29,718.1 666.8,715.82 668.3,713.36 669.81,710.73 671.31,707.91 672.82,704.9 674.32,701.71 675.83,698.33 677.33,694.77 678.84,691.03 680.34,687.13 681.85,683.07 683.35,678.87 684.86,674.55 686.36,670.13 687.87,665.62 689.37,661.06 690.88,656.47 692.38,651.86 693.89,647.28 695.39,642.74 696.9,638.27 698.4,633.89 699.91,629.62 701.41,625.48 702.92,621.48 704.42,617.65 705.93,613.99 707.43,610.5 708.94,607.2 710.44,604.09 711.95,601.17 713.45,598.43 714.96,595.87 716.46,593.49 717.97,591.28 719.47,589.24 720.98,587.35 722.48,585.62 723.99,584.02 725.49,582.56 727,581.22 728.5,579.99 730.01,578.87 731.51,577.86 733.02,576.93 734.52,576.09 736.03,575.32 737.53,574.62 739.04,573.99 740.54,573.42 742.05,572.91 743.55,572.44 745.06,572.01 746.56,571.63 748.07,571.29 749.57,570.97 751.08,570.69 752.58,570.44 754.09,570.21 755.59,570 757.1,569.82 758.6,569.65 760.11,569.5 761.61,569.36 763.12,569.24 764.62,569.13 766.13,569.03 767.63,568.94 769.14,568.85 770.64,568.78 772.15,568.72 773.65,568.66 775.16,568.6 776.66,568.56 778.17,568.51 779.67,568.47 781.18,568.44 782.68,568.41 784.19,568.38 785.69,568.35 787.2,568.33" fill="none" stroke="#a9a9ad" stroke-width="1.4"/>
<circle cx="608.1" cy="737.3" r="6.9" fill="#a9a9ad"/>
<circle cx="635.7" cy="737.3" r="6.9" fill="#a9a9ad"/>
<circle cx="654.4" cy="735.67" r="6.9" fill="#a9a9ad"/>
<circle cx="673.5" cy="707.47" r="6.9" fill="#a9a9ad"/>
<circle cx="692.4" cy="645.27" r="6.9" fill="#a9a9ad"/>
<circle cx="711.3" cy="601.7" r="6.9" fill="#a9a9ad"/>
<circle cx="730.2" cy="592.66" r="6.9" fill="#a9a9ad"/>
<circle cx="749.1" cy="567.35" r="6.9" fill="#a9a9ad"/>
<circle cx="768.3" cy="570.42" r="6.9" fill="#a9a9ad"/>
<circle cx="787.2" cy="560.12" r="6.9" fill="#a9a9ad"/>
<polyline points="608.1,740.73 609.61,740.62 611.11,740.49 612.62,740.36 614.12,740.21 615.63,740.04 617.13,739.86 618.64,739.66 620.14,739.44 621.65,739.19 623.15,738.92 624.66,738.63 626.16,738.3 627.67,737.95 629.17,737.56 630.68,737.13 632.18,736.65 633.69,736.13 635.19,735.57 636.7,734.94 638.2,734.26 639.71,733.51 641.21,732.7 642.72,731.81 644.22,730.83 645.73,729.77 647.23,728.62 648.74,727.36 650.24,725.99 651.75,724.51 653.25,722.91 654.76,721.18 656.26,719.31 657.77,717.29 659.27,715.13 660.78,712.81 662.28,710.34 663.79,707.7 665.29,704.89 666.8,701.91 668.3,698.77 669.81,695.46 671.31,691.99 672.82,688.37 674.32,684.59 675.83,680.68 677.33,676.65 678.84,672.5 680.34,668.25 681.85,663.93 683.35,659.56 684.86,655.14 686.36,650.71 687.87,646.28 689.37,641.88 690.88,637.53 692.38,633.25 693.89,629.05 695.39,624.95 696.9,620.97 698.4,617.13 699.91,613.42 701.41,609.87 702.92,606.48 704.42,603.25 705.93,600.19 707.43,597.29 708.94,594.57 710.44,592 711.95,589.6 713.45,587.36 714.96,585.27 716.46,583.33 717.97,581.53 719.47,579.86 720.98,578.31 722.48,576.89 723.99,575.58 725.49,574.37 727,573.26 728.5,572.24 730.01,571.31 731.51,570.45 733.02,569.67 734.52,568.96 736.03,568.3 737.53,567.71 739.04,567.16 740.54,566.67 742.05,566.22 743.55,565.81 745.06,565.43 746.56,565.09 748.07,564.78 749.57,564.5 751.08,564.24 752.58,564.01 754.09,563.8 755.59,563.61 757.1,563.43 758.6,563.27 760.11,563.13 761.61,563 763.12,562.88 764.62,562.77 766.13,562.68 767.63,562.59 769.14,562.51 770.64,562.43 772.15,562.37 773.65,562.31 775.16,562.25 776.66,562.2 778.17,562.16 779.67,562.12 781.18,562.08 782.68,562.05 784.19,562.02 785.69,561.99 787.2,561.97" fill="none" stroke="#0a850a" stroke-width="1.4"/>
<circle cx="608.1" cy="737.3" r="6.9" fill="#0a850a"/>
<circle cx="635.7" cy="734.59" r="6.9" fill="#0a850a"/>
<circle cx="654.4" cy="727.36" r="6.9" fill="#0a850a"/>
<circle cx="673.5" cy="687.94" r="6.9" fill="#0a850a"/>
<circle cx="692.4" cy="625.57" r="6.9" fill="#0a850a"/>
<circle cx="711.3" cy="596.28" r="6.9" fill="#0a850a"/>
<circle cx="730.2" cy="577.11" r="6.9" fill="#0a850a"/>
<circle cx="749.1" cy="563.91" r="6.9" fill="#0a850a"/>
<circle cx="768.3" cy="560.12" r="6.9" fill="#0a850a"/>
<circle cx="787.2" cy="558.31" r="6.9" fill="#0a850a"/>
<polyline points="608.1,733.13 609.61,732.98 611.11,732.81 612.62,732.62 614.12,732.41 615.63,732.17 617.13,731.92 618.64,731.63 620.14,731.32 621.65,730.97 623.15,730.59 624.66,730.17 626.16,729.71 627.67,729.2 629.17,728.64 630.68,728.02 632.18,727.34 633.69,726.59 635.19,725.77 636.7,724.87 638.2,723.89 639.71,722.81 641.21,721.63 642.72,720.35 644.22,718.95 645.73,717.43 647.23,715.77 648.74,713.98 650.24,712.04 651.75,709.95 653.25,707.7 654.76,705.28 656.26,702.69 657.77,699.93 659.27,696.99 660.78,693.88 662.28,690.58 663.79,687.12 665.29,683.49 666.8,679.7 668.3,675.76 669.81,671.69 671.31,667.49 672.82,663.2 674.32,658.82 675.83,654.38 677.33,649.9 678.84,645.4 680.34,640.92 681.85,636.46 683.35,632.06 684.86,627.73 686.36,623.5 687.87,619.38 689.37,615.39 690.88,611.54 692.38,607.86 693.89,604.33 695.39,600.98 696.9,597.8 698.4,594.79 699.91,591.97 701.41,589.32 702.92,586.84 704.42,584.53 705.93,582.38 707.43,580.39 708.94,578.54 710.44,576.84 711.95,575.27 713.45,573.83 714.96,572.5 716.46,571.29 717.97,570.18 719.47,569.16 720.98,568.23 722.48,567.38 723.99,566.61 725.49,565.91 727,565.27 728.5,564.69 730.01,564.16 731.51,563.68 733.02,563.25 734.52,562.85 736.03,562.49 737.53,562.17 739.04,561.87 740.54,561.61 742.05,561.37 743.55,561.15 745.06,560.95 746.56,560.77 748.07,560.61 749.57,560.47 751.08,560.34 752.58,560.22 754.09,560.11 755.59,560.01 757.1,559.92 758.6,559.84 760.11,559.77 761.61,559.71 763.12,559.65 764.62,559.6 766.13,559.55 767.63,559.5 769.14,559.47 770.64,559.43 772.15,559.4 773.65,559.37 775.16,559.34 776.66,559.32 778.17,559.3 779.67,559.28 781.18,559.26 782.68,559.25 784.19,559.23 785.69,559.22 787.2,559.21" fill="none" stroke="#ff0000" stroke-width="1.4"/>
<path d="M635.7 727.36V718.32M629.2 718.32h13" stroke="#ff0000" stroke-width="1.8" fill="none"/>
<path d="M654.4 709.64V702.77M647.9 702.77h13" stroke="#ff0000" stroke-width="1.8" fill="none"/>
<circle cx="608.1" cy="728.26" r="6.9" fill="#ff0000"/>
<circle cx="635.7" cy="727.36" r="6.9" fill="#ff0000"/>
<circle cx="654.4" cy="709.64" r="6.9" fill="#ff0000"/>
<circle cx="673.5" cy="659.74" r="6.9" fill="#ff0000"/>
<circle cx="692.4" cy="603.33" r="6.9" fill="#ff0000"/>
<circle cx="711.3" cy="582.54" r="6.9" fill="#ff0000"/>
<circle cx="730.2" cy="569.34" r="6.9" fill="#ff0000"/>
<circle cx="749.1" cy="558.31" r="6.9" fill="#ff0000"/>
<circle cx="768.3" cy="556.5" r="6.9" fill="#ff0000"/>
<circle cx="787.2" cy="556.5" r="6.9" fill="#ff0000"/>
<polyline points="608.1,735.4 609.61,735.23 611.11,735.04 612.62,734.84 614.12,734.62 615.63,734.38 617.13,734.12 618.64,733.83 620.14,733.52 621.65,733.18 623.15,732.81 624.66,732.41 626.16,731.98 627.67,731.51 629.17,731 630.68,730.44 632.18,729.84 633.69,729.19 635.19,728.48 636.7,727.72 638.2,726.89 639.71,726 641.21,725.03 642.72,723.99 644.22,722.87 645.73,721.67 647.23,720.37 648.74,718.98 650.24,717.49 651.75,715.89 653.25,714.18 654.76,712.36 656.26,710.42 657.77,708.36 659.27,706.17 660.78,703.85 662.28,701.4 663.79,698.82 665.29,696.11 666.8,693.26 668.3,690.29 669.81,687.19 671.31,683.97 672.82,680.63 674.32,677.19 675.83,673.64 677.33,670 678.84,666.28 680.34,662.5 681.85,658.66 683.35,654.78 684.86,650.87 686.36,646.95 687.87,643.04 689.37,639.14 690.88,635.27 692.38,631.46 693.89,627.7 695.39,624.02 696.9,620.42 698.4,616.91 699.91,613.51 701.41,610.22 702.92,607.06 704.42,604.01 705.93,601.09 707.43,598.31 708.94,595.65 710.44,593.13 711.95,590.74 713.45,588.47 714.96,586.34 716.46,584.33 717.97,582.44 719.47,580.67 720.98,579.01 722.48,577.46 723.99,576.01 725.49,574.66 727,573.41 728.5,572.24 730.01,571.16 731.51,570.15 733.02,569.22 734.52,568.35 736.03,567.55 737.53,566.81 739.04,566.13 740.54,565.5 742.05,564.92 743.55,564.39 745.06,563.89 746.56,563.44 748.07,563.02 749.57,562.63 751.08,562.28 752.58,561.95 754.09,561.65 755.59,561.38 757.1,561.12 758.6,560.89 760.11,560.68 761.61,560.48 763.12,560.3 764.62,560.13 766.13,559.98 767.63,559.84 769.14,559.72 770.64,559.6 772.15,559.49 773.65,559.39 775.16,559.3 776.66,559.22 778.17,559.14 779.67,559.07 781.18,559.01 782.68,558.95 784.19,558.9 785.69,558.85 787.2,558.8" fill="none" stroke="#000000" stroke-width="1.5"/>
<path d="M608.1 753.39V743.09M601.6 753.39h13" stroke="#000000" stroke-width="1.8" fill="none"/>
<circle cx="608.1" cy="743.09" r="6.9" fill="#000000"/>
<circle cx="635.7" cy="739.29" r="6.9" fill="#000000"/>
<circle cx="654.4" cy="722.11" r="6.9" fill="#000000"/>
<circle cx="673.5" cy="677.64" r="6.9" fill="#000000"/>
<circle cx="692.4" cy="618.88" r="6.9" fill="#000000"/>
<circle cx="711.3" cy="591.76" r="6.9" fill="#000000"/>
<circle cx="730.2" cy="587.78" r="6.9" fill="#000000"/>
<circle cx="749.1" cy="581.99" r="6.9" fill="#000000"/>
<circle cx="768.3" cy="567.71" r="6.9" fill="#000000"/>
<circle cx="787.2" cy="557.4" r="6.9" fill="#000000"/>
<line x1="1031" y1="737.3" x2="1295.1" y2="737.3" stroke="#000" stroke-width="3.0" stroke-linecap="round" stroke-dasharray="0 8.15"/>
<line x1="1031" y1="556.5" x2="1295.1" y2="556.5" stroke="#000" stroke-width="3.0" stroke-linecap="round" stroke-dasharray="0 8.15"/>
<path d="M1023 511.3V782.5H1294.1" fill="none" stroke="#262626" stroke-width="2.0" stroke-linecap="square"/>
<path d="M1012 737.3H1023M1017.5 692.1H1023M1012 646.9H1023M1017.5 601.7H1023M1012 556.5H1023M1017.5 511.3H1023M1023 782.5v10.5M1031.16 782.5v5.5M1035.93 782.5v5.5M1039.32 782.5v5.5M1041.95 782.5v5.5M1044.1 782.5v5.5M1045.91 782.5v5.5M1047.48 782.5v5.5M1048.87 782.5v5.5M1050.11 782.5v10.5M1058.27 782.5v5.5M1063.04 782.5v5.5M1066.43 782.5v5.5M1069.06 782.5v5.5M1071.21 782.5v5.5M1073.02 782.5v5.5M1074.59 782.5v5.5M1075.98 782.5v5.5M1077.22 782.5v10.5M1085.38 782.5v5.5M1090.15 782.5v5.5M1093.54 782.5v5.5M1096.17 782.5v5.5M1098.32 782.5v5.5M1100.13 782.5v5.5M1101.7 782.5v5.5M1103.09 782.5v5.5M1104.33 782.5v10.5M1112.49 782.5v5.5M1117.26 782.5v5.5M1120.65 782.5v5.5M1123.28 782.5v5.5M1125.43 782.5v5.5M1127.24 782.5v5.5M1128.81 782.5v5.5M1130.2 782.5v5.5M1131.44 782.5v10.5M1139.6 782.5v5.5M1144.37 782.5v5.5M1147.76 782.5v5.5M1150.39 782.5v5.5M1152.54 782.5v5.5M1154.35 782.5v5.5M1155.92 782.5v5.5M1157.31 782.5v5.5M1158.55 782.5v10.5M1166.71 782.5v5.5M1171.48 782.5v5.5M1174.87 782.5v5.5M1177.5 782.5v5.5M1179.65 782.5v5.5M1181.46 782.5v5.5M1183.03 782.5v5.5M1184.42 782.5v5.5M1185.66 782.5v10.5M1193.82 782.5v5.5M1198.59 782.5v5.5M1201.98 782.5v5.5M1204.61 782.5v5.5M1206.76 782.5v5.5M1208.57 782.5v5.5M1210.14 782.5v5.5M1211.53 782.5v5.5M1212.77 782.5v10.5M1220.93 782.5v5.5M1225.7 782.5v5.5M1229.09 782.5v5.5M1231.72 782.5v5.5M1233.87 782.5v5.5M1235.68 782.5v5.5M1237.25 782.5v5.5M1238.64 782.5v5.5M1239.88 782.5v10.5M1248.04 782.5v5.5M1252.81 782.5v5.5M1256.2 782.5v5.5M1258.83 782.5v5.5M1260.98 782.5v5.5M1262.79 782.5v5.5M1264.36 782.5v5.5M1265.75 782.5v5.5M1266.99 782.5v10.5M1275.15 782.5v5.5M1279.92 782.5v5.5M1283.31 782.5v5.5M1285.94 782.5v5.5M1288.09 782.5v5.5M1289.9 782.5v5.5M1291.47 782.5v5.5M1292.86 782.5v5.5M1294.1 782.5v10.5" fill="none" stroke="#262626" stroke-width="1.8"/>
<text transform="translate(1009.2 746.6) scale(1 1.04)" text-anchor="end" font-size="26.5">0</text>
<text transform="translate(1009.2 656.2) scale(1 1.04)" text-anchor="end" font-size="26.5">50</text>
<text transform="translate(1009.2 565.8) scale(1 1.04)" text-anchor="end" font-size="26.5">100</text>
<text transform="translate(1030.85 817.05) rotate(-45)" text-anchor="end" font-size="25">10<tspan font-size="16.5" dx="2.5" dy="-9.3">-5</tspan></text>
<text transform="translate(1057.96 817.05) rotate(-45)" text-anchor="end" font-size="25">10<tspan font-size="16.5" dx="2.5" dy="-9.3">-4</tspan></text>
<text transform="translate(1085.07 817.05) rotate(-45)" text-anchor="end" font-size="25">10<tspan font-size="16.5" dx="2.5" dy="-9.3">-3</tspan></text>
<text transform="translate(1112.18 817.05) rotate(-45)" text-anchor="end" font-size="25">10<tspan font-size="16.5" dx="2.5" dy="-9.3">-2</tspan></text>
<text transform="translate(1139.29 817.05) rotate(-45)" text-anchor="end" font-size="25">10<tspan font-size="16.5" dx="2.5" dy="-9.3">-1</tspan></text>
<text transform="translate(1166.4 817.05) rotate(-45)" text-anchor="end" font-size="25">10<tspan font-size="16.5" dx="2.5" dy="-9.3">0</tspan></text>
<text transform="translate(1193.51 817.05) rotate(-45)" text-anchor="end" font-size="25">10<tspan font-size="16.5" dx="2.5" dy="-9.3">1</tspan></text>
<text transform="translate(1220.62 817.05) rotate(-45)" text-anchor="end" font-size="25">10<tspan font-size="16.5" dx="2.5" dy="-9.3">2</tspan></text>
<text transform="translate(1247.73 817.05) rotate(-45)" text-anchor="end" font-size="25">10<tspan font-size="16.5" dx="2.5" dy="-9.3">3</tspan></text>
<text transform="translate(1274.84 817.05) rotate(-45)" text-anchor="end" font-size="25">10<tspan font-size="16.5" dx="2.5" dy="-9.3">4</tspan></text>
<text transform="translate(1301.95 817.05) rotate(-45)" text-anchor="end" font-size="25">10<tspan font-size="16.5" dx="2.5" dy="-9.3">5</tspan></text>
<text x="917" y="491" font-weight="bold" font-size="22" letter-spacing="0.52">H6N5 A/aquatic bird/ Korea/CN5/2009</text>
<text transform="translate(950.2 644.4) rotate(-90)" text-anchor="middle" font-size="30.7">% of inhibition</text>
<text x="1159.05" y="870.4" text-anchor="middle" font-size="30.7">mAb (ng/ml)</text>
<polyline points="1087.7,737.3 1228.6,737.3 1247.8,728.26 1266.8,712.89" fill="none" stroke="#a9a9ad" stroke-width="1.4"/>
<path d="M1209.7 766.95V752.13M1203.2 766.95h13M1203.2 752.13h13" stroke="#a9a9ad" stroke-width="1.8" fill="none"/>
<circle cx="1087.7" cy="752.13" r="6.9" fill="#a9a9ad"/>
<circle cx="1114.7" cy="748.87" r="6.9" fill="#a9a9ad"/>
<circle cx="1133.8" cy="752.13" r="6.9" fill="#a9a9ad"/>
<circle cx="1153" cy="750.5" r="6.9" fill="#a9a9ad"/>
<circle cx="1171.9" cy="745.44" r="6.9" fill="#a9a9ad"/>
<circle cx="1190.8" cy="746.88" r="6.9" fill="#a9a9ad"/>
<circle cx="1209.7" cy="758.63" r="6.9" fill="#a9a9ad"/>
<circle cx="1228.6" cy="739.83" r="6.9" fill="#a9a9ad"/>
<circle cx="1247.8" cy="728.26" r="6.9" fill="#a9a9ad"/>
<circle cx="1266.8" cy="712.89" r="6.9" fill="#a9a9ad"/>
<polyline points="1087.7,737.3 1089.21,737.3 1090.71,737.3 1092.22,737.3 1093.72,737.3 1095.23,737.3 1096.73,737.3 1098.24,737.3 1099.74,737.3 1101.25,737.3 1102.75,737.3 1104.26,737.29 1105.76,737.29 1107.27,737.29 1108.77,737.29 1110.28,737.29 1111.78,737.29 1113.29,737.28 1114.79,737.28 1116.3,737.28 1117.8,737.27 1119.31,737.26 1120.81,737.26 1122.32,737.25 1123.82,737.23 1125.33,737.22 1126.83,737.2 1128.34,737.18 1129.84,737.16 1131.35,737.13 1132.85,737.09 1134.36,737.05 1135.86,737 1137.37,736.93 1138.87,736.86 1140.38,736.76 1141.88,736.65 1143.39,736.51 1144.89,736.35 1146.4,736.14 1147.9,735.9 1149.41,735.61 1150.91,735.25 1152.42,734.82 1153.92,734.31 1155.43,733.69 1156.93,732.94 1158.44,732.04 1159.94,730.97 1161.45,729.68 1162.95,728.14 1164.46,726.32 1165.96,724.16 1167.47,721.62 1168.97,718.64 1170.48,715.16 1171.98,711.15 1173.49,706.54 1174.99,701.31 1176.5,695.44 1178,688.93 1179.51,681.81 1181.01,674.14 1182.52,666 1184.02,657.53 1185.53,648.85 1187.03,640.13 1188.54,631.52 1190.04,623.19 1191.55,615.25 1193.05,607.82 1194.56,600.97 1196.06,594.75 1197.57,589.17 1199.07,584.23 1200.58,579.89 1202.08,576.13 1203.59,572.88 1205.09,570.11 1206.6,567.74 1208.1,565.74 1209.61,564.06 1211.11,562.64 1212.62,561.45 1214.12,560.46 1215.63,559.64 1217.13,558.95 1218.64,558.38 1220.14,557.9 1221.65,557.51 1223.15,557.18 1224.66,556.91 1226.16,556.69 1227.67,556.51 1229.17,556.35 1230.68,556.23 1232.18,556.12 1233.69,556.04 1235.19,555.97 1236.7,555.91 1238.2,555.86 1239.71,555.82 1241.21,555.79 1242.72,555.76 1244.22,555.74 1245.73,555.72 1247.23,555.7 1248.74,555.69 1250.24,555.68 1251.75,555.67 1253.25,555.67 1254.76,555.66 1256.26,555.65 1257.77,555.65 1259.27,555.65 1260.78,555.64 1262.28,555.64 1263.79,555.64 1265.29,555.64 1266.8,555.64" fill="none" stroke="#0a850a" stroke-width="1.4"/>
<circle cx="1087.7" cy="752.13" r="6.9" fill="#0a850a"/>
<circle cx="1114.7" cy="748.87" r="6.9" fill="#0a850a"/>
<circle cx="1133.8" cy="752.13" r="6.9" fill="#0a850a"/>
<circle cx="1153" cy="740.55" r="6.9" fill="#0a850a"/>
<circle cx="1171.9" cy="708.55" r="6.9" fill="#0a850a"/>
<circle cx="1190.8" cy="620.68" r="6.9" fill="#0a850a"/>
<circle cx="1209.7" cy="561.38" r="6.9" fill="#0a850a"/>
<circle cx="1228.6" cy="556.5" r="6.9" fill="#0a850a"/>
<circle cx="1247.8" cy="556.5" r="6.9" fill="#0a850a"/>
<circle cx="1266.8" cy="556.5" r="6.9" fill="#0a850a"/>
<polyline points="1087.7,736.72 1089.21,736.69 1090.71,736.65 1092.22,736.61 1093.72,736.57 1095.23,736.51 1096.73,736.45 1098.24,736.38 1099.74,736.3 1101.25,736.2 1102.75,736.08 1104.26,735.95 1105.76,735.8 1107.27,735.62 1108.77,735.41 1110.28,735.16 1111.78,734.88 1113.29,734.55 1114.79,734.17 1116.3,733.73 1117.8,733.22 1119.31,732.62 1120.81,731.94 1122.32,731.15 1123.82,730.23 1125.33,729.18 1126.83,727.97 1128.34,726.57 1129.84,724.98 1131.35,723.16 1132.85,721.09 1134.36,718.74 1135.86,716.09 1137.37,713.1 1138.87,709.76 1140.38,706.04 1141.88,701.92 1143.39,697.4 1144.89,692.47 1146.4,687.15 1147.9,681.44 1149.41,675.39 1150.91,669.03 1152.42,662.42 1153.92,655.63 1155.43,648.73 1156.93,641.81 1158.44,634.93 1159.94,628.18 1161.45,621.64 1162.95,615.36 1164.46,609.4 1165.96,603.8 1167.47,598.58 1168.97,593.77 1170.48,589.36 1171.98,585.36 1173.49,581.75 1174.99,578.5 1176.5,575.61 1178,573.05 1179.51,570.78 1181.01,568.78 1182.52,567.03 1184.02,565.49 1185.53,564.15 1187.03,562.99 1188.54,561.97 1190.04,561.1 1191.55,560.33 1193.05,559.68 1194.56,559.11 1196.06,558.61 1197.57,558.19 1199.07,557.83 1200.58,557.51 1202.08,557.24 1203.59,557.01 1205.09,556.81 1206.6,556.63 1208.1,556.48 1209.61,556.36 1211.11,556.25 1212.62,556.15 1214.12,556.07 1215.63,556 1217.13,555.94 1218.64,555.89 1220.14,555.85 1221.65,555.81 1223.15,555.78 1224.66,555.75 1226.16,555.73 1227.67,555.71 1229.17,555.69 1230.68,555.67 1232.18,555.66 1233.69,555.65 1235.19,555.64 1236.7,555.63 1238.2,555.62 1239.71,555.62 1241.21,555.61 1242.72,555.61 1244.22,555.6 1245.73,555.6 1247.23,555.6 1248.74,555.6 1250.24,555.59 1251.75,555.59 1253.25,555.59 1254.76,555.59 1256.26,555.59 1257.77,555.59 1259.27,555.59 1260.78,555.59 1262.28,555.59 1263.79,555.58 1265.29,555.58 1266.8,555.58" fill="none" stroke="#ff0000" stroke-width="1.4"/>
<circle cx="1087.7" cy="742.18" r="6.9" fill="#ff0000"/>
<circle cx="1114.7" cy="730.97" r="6.9" fill="#ff0000"/>
<circle cx="1133.8" cy="715.6" r="6.9" fill="#ff0000"/>
<circle cx="1153" cy="662.99" r="6.9" fill="#ff0000"/>
<circle cx="1171.9" cy="583.08" r="6.9" fill="#ff0000"/>
<circle cx="1190.8" cy="559.03" r="6.9" fill="#ff0000"/>
<circle cx="1209.7" cy="556.5" r="6.9" fill="#ff0000"/>
<circle cx="1228.6" cy="556.5" r="6.9" fill="#ff0000"/>
<circle cx="1247.8" cy="556.5" r="6.9" fill="#ff0000"/>
<circle cx="1266.8" cy="556.5" r="6.9" fill="#ff0000"/>
<polyline points="1087.7,736.09 1089.21,736.09 1090.71,736.09 1092.22,736.08 1093.72,736.08 1095.23,736.07 1096.73,736.07 1098.24,736.06 1099.74,736.05 1101.25,736.05 1102.75,736.03 1104.26,736.02 1105.76,736.01 1107.27,735.99 1108.77,735.97 1110.28,735.94 1111.78,735.92 1113.29,735.88 1114.79,735.84 1116.3,735.8 1117.8,735.74 1119.31,735.68 1120.81,735.6 1122.32,735.51 1123.82,735.41 1125.33,735.29 1126.83,735.14 1128.34,734.97 1129.84,734.77 1131.35,734.54 1132.85,734.27 1134.36,733.95 1135.86,733.57 1137.37,733.13 1138.87,732.61 1140.38,732.01 1141.88,731.31 1143.39,730.48 1144.89,729.53 1146.4,728.41 1147.9,727.12 1149.41,725.63 1150.91,723.9 1152.42,721.92 1153.92,719.64 1155.43,717.04 1156.93,714.08 1158.44,710.74 1159.94,706.99 1161.45,702.79 1162.95,698.15 1164.46,693.05 1165.96,687.51 1167.47,681.53 1168.97,675.16 1170.48,668.45 1171.98,661.46 1173.49,654.29 1174.99,647 1176.5,639.71 1178,632.5 1179.51,625.48 1181.01,618.71 1182.52,612.27 1184.02,606.22 1185.53,600.59 1187.03,595.4 1188.54,590.68 1190.04,586.4 1191.55,582.57 1193.05,579.15 1194.56,576.12 1196.06,573.46 1197.57,571.12 1199.07,569.08 1200.58,567.31 1202.08,565.78 1203.59,564.45 1205.09,563.3 1206.6,562.32 1208.1,561.47 1209.61,560.75 1211.11,560.13 1212.62,559.6 1214.12,559.14 1215.63,558.76 1217.13,558.42 1218.64,558.14 1220.14,557.9 1221.65,557.7 1223.15,557.52 1224.66,557.37 1226.16,557.25 1227.67,557.14 1229.17,557.05 1230.68,556.97 1232.18,556.9 1233.69,556.85 1235.19,556.8 1236.7,556.76 1238.2,556.72 1239.71,556.7 1241.21,556.67 1242.72,556.65 1244.22,556.63 1245.73,556.62 1247.23,556.6 1248.74,556.59 1250.24,556.58 1251.75,556.57 1253.25,556.57 1254.76,556.56 1256.26,556.56 1257.77,556.55 1259.27,556.55 1260.78,556.55 1262.28,556.54 1263.79,556.54 1265.29,556.54 1266.8,556.54" fill="none" stroke="#000000" stroke-width="1.5"/>
<circle cx="1087.7" cy="734.41" r="6.9" fill="#000000"/>
<circle cx="1114.7" cy="738.57" r="6.9" fill="#000000"/>
<circle cx="1133.8" cy="736.03" r="6.9" fill="#000000"/>
<circle cx="1153" cy="716.69" r="6.9" fill="#000000"/>
<circle cx="1171.9" cy="664.08" r="6.9" fill="#000000"/>
<circle cx="1190.8" cy="583.08" r="6.9" fill="#000000"/>
<circle cx="1209.7" cy="558.31" r="6.9" fill="#000000"/>
<circle cx="1228.6" cy="557.4" r="6.9" fill="#000000"/>
<circle cx="1247.8" cy="557.4" r="6.9" fill="#000000"/>
<circle cx="1266.8" cy="558.31" r="6.9" fill="#000000"/>
<line x1="111.5" y1="1149.4" x2="375.8" y2="1149.4" stroke="#000" stroke-width="3.0" stroke-linecap="round" stroke-dasharray="0 8.15"/>
<line x1="111.5" y1="968.6" x2="375.8" y2="968.6" stroke="#000" stroke-width="3.0" stroke-linecap="round" stroke-dasharray="0 8.15"/>
<path d="M103.5 923.4V1194.6H374.8" fill="none" stroke="#262626" stroke-width="2.0" stroke-linecap="square"/>
<path d="M92.5 1149.4H103.5M98 1104.2H103.5M92.5 1059H103.5M98 1013.8H103.5M92.5 968.6H103.5M98 923.4H103.5M103.5 1194.6v10.5M117.11 1194.6v5.5M125.07 1194.6v5.5M130.72 1194.6v5.5M135.11 1194.6v5.5M138.69 1194.6v5.5M141.71 1194.6v5.5M144.33 1194.6v5.5M146.65 1194.6v5.5M148.72 1194.6v10.5M162.33 1194.6v5.5M170.29 1194.6v5.5M175.94 1194.6v5.5M180.32 1194.6v5.5M183.9 1194.6v5.5M186.93 1194.6v5.5M189.55 1194.6v5.5M191.86 1194.6v5.5M193.93 1194.6v10.5M207.54 1194.6v5.5M215.51 1194.6v5.5M221.16 1194.6v5.5M225.54 1194.6v5.5M229.12 1194.6v5.5M232.15 1194.6v5.5M234.77 1194.6v5.5M237.08 1194.6v5.5M239.15 1194.6v10.5M252.76 1194.6v5.5M260.72 1194.6v5.5M266.37 1194.6v5.5M270.76 1194.6v5.5M274.34 1194.6v5.5M277.36 1194.6v5.5M279.98 1194.6v5.5M282.3 1194.6v5.5M284.37 1194.6v10.5M297.98 1194.6v5.5M305.94 1194.6v5.5M311.59 1194.6v5.5M315.97 1194.6v5.5M319.55 1194.6v5.5M322.58 1194.6v5.5M325.2 1194.6v5.5M327.51 1194.6v5.5M329.58 1194.6v10.5M343.19 1194.6v5.5M351.16 1194.6v5.5M356.81 1194.6v5.5M361.19 1194.6v5.5M364.77 1194.6v5.5M367.8 1194.6v5.5M370.42 1194.6v5.5M372.73 1194.6v5.5M374.8 1194.6v10.5" fill="none" stroke="#262626" stroke-width="1.8"/>
<text transform="translate(89.7 1158.7) scale(1 1.04)" text-anchor="end" font-size="26.5">0</text>
<text transform="translate(89.7 1068.3) scale(1 1.04)" text-anchor="end" font-size="26.5">50</text>
<text transform="translate(89.7 977.9) scale(1 1.04)" text-anchor="end" font-size="26.5">100</text>
<text transform="translate(111.35 1229.15) rotate(-45)" text-anchor="end" font-size="25">10<tspan font-size="16.5" dx="2.5" dy="-9.3">-1</tspan></text>
<text transform="translate(156.57 1229.15) rotate(-45)" text-anchor="end" font-size="25">10<tspan font-size="16.5" dx="2.5" dy="-9.3">0</tspan></text>
<text transform="translate(201.78 1229.15) rotate(-45)" text-anchor="end" font-size="25">10<tspan font-size="16.5" dx="2.5" dy="-9.3">1</tspan></text>
<text transform="translate(247 1229.15) rotate(-45)" text-anchor="end" font-size="25">10<tspan font-size="16.5" dx="2.5" dy="-9.3">2</tspan></text>
<text transform="translate(292.22 1229.15) rotate(-45)" text-anchor="end" font-size="25">10<tspan font-size="16.5" dx="2.5" dy="-9.3">3</tspan></text>
<text transform="translate(337.43 1229.15) rotate(-45)" text-anchor="end" font-size="25">10<tspan font-size="16.5" dx="2.5" dy="-9.3">4</tspan></text>
<text transform="translate(382.65 1229.15) rotate(-45)" text-anchor="end" font-size="25">10<tspan font-size="16.5" dx="2.5" dy="-9.3">5</tspan></text>
<text x="116.6" y="912.5" font-weight="bold" font-size="22" letter-spacing="0.52">H1N1 A/Swine/Hebei/2017</text>
<text transform="translate(31.5 1045.15) rotate(-90)" text-anchor="middle" font-size="29">% of inhibition</text>
<text x="240.05" y="1281.5" text-anchor="middle" font-size="30.7">mAb (ng/ml)</text>
<polyline points="121.3,1147.52 123.32,1147.49 125.34,1147.46 127.36,1147.43 129.37,1147.39 131.39,1147.35 133.41,1147.31 135.43,1147.26 137.45,1147.2 139.47,1147.14 141.48,1147.07 143.5,1147 145.52,1146.91 147.54,1146.81 149.56,1146.71 151.58,1146.59 153.6,1146.46 155.61,1146.31 157.63,1146.15 159.65,1145.97 161.67,1145.77 163.69,1145.55 165.71,1145.3 167.73,1145.02 169.74,1144.72 171.76,1144.38 173.78,1144 175.8,1143.59 177.82,1143.12 179.84,1142.61 181.85,1142.05 183.87,1141.42 185.89,1140.73 187.91,1139.97 189.93,1139.12 191.95,1138.2 193.97,1137.18 195.98,1136.06 198,1134.83 200.02,1133.49 202.04,1132.02 204.06,1130.42 206.08,1128.67 208.09,1126.78 210.11,1124.73 212.13,1122.52 214.15,1120.14 216.17,1117.59 218.19,1114.86 220.21,1111.95 222.22,1108.86 224.24,1105.6 226.26,1102.17 228.28,1098.58 230.3,1094.84 232.32,1090.96 234.34,1086.96 236.35,1082.87 238.37,1078.69 240.39,1074.45 242.41,1070.18 244.43,1065.91 246.45,1061.65 248.46,1057.43 250.48,1053.27 252.5,1049.2 254.52,1045.24 256.54,1041.41 258.56,1037.71 260.58,1034.17 262.59,1030.79 264.61,1027.58 266.63,1024.55 268.65,1021.7 270.67,1019.02 272.69,1016.53 274.71,1014.2 276.72,1012.04 278.74,1010.04 280.76,1008.2 282.78,1006.5 284.8,1004.94 286.82,1003.51 288.83,1002.2 290.85,1001.01 292.87,999.92 294.89,998.94 296.91,998.04 298.93,997.22 300.95,996.48 302.96,995.81 304.98,995.2 307,994.65 309.02,994.16 311.04,993.71 313.06,993.31 315.07,992.94 317.09,992.62 319.11,992.32 321.13,992.05 323.15,991.81 325.17,991.6 327.19,991.4 329.2,991.23 331.22,991.07 333.24,990.93 335.26,990.8 337.28,990.69 339.3,990.59 341.32,990.5 343.33,990.41 345.35,990.34 347.37,990.27 349.39,990.21 351.41,990.16 353.43,990.11 355.44,990.07 357.46,990.03 359.48,989.99 361.5,989.96" fill="none" stroke="#a9a9ad" stroke-width="1.4"/>
<circle cx="121.3" cy="1148.5" r="6.9" fill="#a9a9ad"/>
<circle cx="166.7" cy="1145.42" r="6.9" fill="#a9a9ad"/>
<circle cx="188.3" cy="1140.72" r="6.9" fill="#a9a9ad"/>
<circle cx="210" cy="1120.29" r="6.9" fill="#a9a9ad"/>
<circle cx="231.7" cy="1095.16" r="6.9" fill="#a9a9ad"/>
<circle cx="253.3" cy="1048.33" r="6.9" fill="#a9a9ad"/>
<circle cx="274.7" cy="1011.45" r="6.9" fill="#a9a9ad"/>
<circle cx="296" cy="998.79" r="6.9" fill="#a9a9ad"/>
<circle cx="317.8" cy="993.01" r="6.9" fill="#a9a9ad"/>
<circle cx="339.5" cy="990.3" r="6.9" fill="#a9a9ad"/>
<circle cx="361.5" cy="990.84" r="6.9" fill="#a9a9ad"/>
<polyline points="121.3,1149.19 123.32,1148.97 125.34,1148.73 127.36,1148.46 129.37,1148.17 131.39,1147.85 133.41,1147.49 135.43,1147.1 137.45,1146.67 139.47,1146.19 141.48,1145.66 143.5,1145.08 145.52,1144.45 147.54,1143.75 149.56,1142.98 151.58,1142.14 153.6,1141.22 155.61,1140.21 157.63,1139.11 159.65,1137.91 161.67,1136.6 163.69,1135.18 165.71,1133.63 167.73,1131.95 169.74,1130.14 171.76,1128.18 173.78,1126.08 175.8,1123.81 177.82,1121.39 179.84,1118.81 181.85,1116.06 183.87,1113.14 185.89,1110.06 187.91,1106.81 189.93,1103.41 191.95,1099.87 193.97,1096.18 195.98,1092.36 198,1088.44 200.02,1084.41 202.04,1080.31 204.06,1076.15 206.08,1071.95 208.09,1067.74 210.11,1063.54 212.13,1059.36 214.15,1055.23 216.17,1051.17 218.19,1047.2 220.21,1043.34 222.22,1039.6 224.24,1035.99 226.26,1032.53 228.28,1029.22 230.3,1026.08 232.32,1023.09 234.34,1020.27 236.35,1017.62 238.37,1015.13 240.39,1012.81 242.41,1010.64 244.43,1008.62 246.45,1006.75 248.46,1005.02 250.48,1003.42 252.5,1001.94 254.52,1000.59 256.54,999.34 258.56,998.2 260.58,997.16 262.59,996.2 264.61,995.33 266.63,994.53 268.65,993.81 270.67,993.15 272.69,992.55 274.71,992 276.72,991.5 278.74,991.05 280.76,990.64 282.78,990.27 284.8,989.94 286.82,989.63 288.83,989.35 290.85,989.1 292.87,988.88 294.89,988.67 296.91,988.49 298.93,988.32 300.95,988.17 302.96,988.03 304.98,987.91 307,987.8 309.02,987.69 311.04,987.6 313.06,987.52 315.07,987.44 317.09,987.38 319.11,987.32 321.13,987.26 323.15,987.21 325.17,987.17 327.19,987.13 329.2,987.09 331.22,987.06 333.24,987.03 335.26,987 337.28,986.98 339.3,986.95 341.32,986.93 343.33,986.92 345.35,986.9 347.37,986.88 349.39,986.87 351.41,986.86 353.43,986.85 355.44,986.84 357.46,986.83 359.48,986.82 361.5,986.82" fill="none" stroke="#0a850a" stroke-width="1.4"/>
<circle cx="121.3" cy="1149.4" r="6.9" fill="#0a850a"/>
<circle cx="166.7" cy="1131.86" r="6.9" fill="#0a850a"/>
<circle cx="188.3" cy="1107.64" r="6.9" fill="#0a850a"/>
<circle cx="210" cy="1062.62" r="6.9" fill="#0a850a"/>
<circle cx="231.7" cy="1024.65" r="6.9" fill="#0a850a"/>
<circle cx="253.3" cy="1000.78" r="6.9" fill="#0a850a"/>
<circle cx="274.7" cy="991.92" r="6.9" fill="#0a850a"/>
<circle cx="296" cy="990.3" r="6.9" fill="#0a850a"/>
<circle cx="317.8" cy="989.57" r="6.9" fill="#0a850a"/>
<circle cx="339.5" cy="986.32" r="6.9" fill="#0a850a"/>
<circle cx="361.5" cy="983.97" r="6.9" fill="#0a850a"/>
<polyline points="121.3,1147.31 123.32,1147.23 125.34,1147.14 127.36,1147.04 129.37,1146.93 131.39,1146.81 133.41,1146.68 135.43,1146.53 137.45,1146.36 139.47,1146.18 141.48,1145.97 143.5,1145.74 145.52,1145.48 147.54,1145.2 149.56,1144.89 151.58,1144.54 153.6,1144.15 155.61,1143.72 157.63,1143.24 159.65,1142.72 161.67,1142.13 163.69,1141.49 165.71,1140.78 167.73,1139.99 169.74,1139.12 171.76,1138.17 173.78,1137.12 175.8,1135.96 177.82,1134.7 179.84,1133.31 181.85,1131.8 183.87,1130.15 185.89,1128.35 187.91,1126.41 189.93,1124.3 191.95,1122.02 193.97,1119.58 195.98,1116.95 198,1114.15 200.02,1111.16 202.04,1108 204.06,1104.66 206.08,1101.15 208.09,1097.48 210.11,1093.67 212.13,1089.72 214.15,1085.65 216.17,1081.48 218.19,1077.24 220.21,1072.95 222.22,1068.63 224.24,1064.31 226.26,1060.02 228.28,1055.77 230.3,1051.6 232.32,1047.51 234.34,1043.55 236.35,1039.71 238.37,1036.02 240.39,1032.5 242.41,1029.13 244.43,1025.95 246.45,1022.94 248.46,1020.11 250.48,1017.47 252.5,1015 254.52,1012.7 256.54,1010.57 258.56,1008.61 260.58,1006.79 262.59,1005.12 264.61,1003.59 266.63,1002.19 268.65,1000.91 270.67,999.75 272.69,998.68 274.71,997.72 276.72,996.84 278.74,996.04 280.76,995.32 282.78,994.67 284.8,994.08 286.82,993.54 288.83,993.06 290.85,992.62 292.87,992.23 294.89,991.88 296.91,991.56 298.93,991.27 300.95,991.01 302.96,990.78 304.98,990.57 307,990.38 309.02,990.21 311.04,990.06 313.06,989.93 315.07,989.8 317.09,989.69 319.11,989.59 321.13,989.5 323.15,989.42 325.17,989.35 327.19,989.29 329.2,989.23 331.22,989.18 333.24,989.13 335.26,989.09 337.28,989.05 339.3,989.02 341.32,988.99 343.33,988.96 345.35,988.94 347.37,988.91 349.39,988.89 351.41,988.88 353.43,988.86 355.44,988.85 357.46,988.83 359.48,988.82 361.5,988.81" fill="none" stroke="#ff0000" stroke-width="1.4"/>
<circle cx="121.3" cy="1147.59" r="6.9" fill="#ff0000"/>
<circle cx="166.7" cy="1139.64" r="6.9" fill="#ff0000"/>
<circle cx="188.3" cy="1126.62" r="6.9" fill="#ff0000"/>
<circle cx="210" cy="1093.71" r="6.9" fill="#ff0000"/>
<circle cx="231.7" cy="1049.24" r="6.9" fill="#ff0000"/>
<circle cx="253.3" cy="1012.35" r="6.9" fill="#ff0000"/>
<circle cx="274.7" cy="999.7" r="6.9" fill="#ff0000"/>
<circle cx="296" cy="992.1" r="6.9" fill="#ff0000"/>
<circle cx="317.8" cy="990.3" r="6.9" fill="#ff0000"/>
<circle cx="339.5" cy="988.49" r="6.9" fill="#ff0000"/>
<circle cx="361.5" cy="987.58" r="6.9" fill="#ff0000"/>
<polyline points="121.3,1147.88 123.32,1147.68 125.34,1147.47 127.36,1147.23 129.37,1146.97 131.39,1146.69 133.41,1146.37 135.43,1146.03 137.45,1145.65 139.47,1145.23 141.48,1144.78 143.5,1144.27 145.52,1143.72 147.54,1143.12 149.56,1142.46 151.58,1141.74 153.6,1140.95 155.61,1140.09 157.63,1139.15 159.65,1138.12 161.67,1137.01 163.69,1135.79 165.71,1134.48 167.73,1133.05 169.74,1131.51 171.76,1129.85 173.78,1128.05 175.8,1126.12 177.82,1124.06 179.84,1121.84 181.85,1119.48 183.87,1116.97 185.89,1114.31 187.91,1111.49 189.93,1108.53 191.95,1105.41 193.97,1102.16 195.98,1098.76 198,1095.25 200.02,1091.61 202.04,1087.87 204.06,1084.04 206.08,1080.14 208.09,1076.19 210.11,1072.2 212.13,1068.19 214.15,1064.18 216.17,1060.19 218.19,1056.25 220.21,1052.36 222.22,1048.55 224.24,1044.83 226.26,1041.22 228.28,1037.72 230.3,1034.36 232.32,1031.13 234.34,1028.05 236.35,1025.11 238.37,1022.32 240.39,1019.69 242.41,1017.21 244.43,1014.88 246.45,1012.7 248.46,1010.66 250.48,1008.76 252.5,1006.99 254.52,1005.35 256.54,1003.83 258.56,1002.43 260.58,1001.13 262.59,999.94 264.61,998.84 266.63,997.84 268.65,996.91 270.67,996.07 272.69,995.29 274.71,994.58 276.72,993.93 278.74,993.34 280.76,992.8 282.78,992.31 284.8,991.86 286.82,991.45 288.83,991.08 290.85,990.74 292.87,990.43 294.89,990.15 296.91,989.89 298.93,989.66 300.95,989.45 302.96,989.26 304.98,989.09 307,988.93 309.02,988.79 311.04,988.66 313.06,988.54 315.07,988.43 317.09,988.34 319.11,988.25 321.13,988.17 323.15,988.1 325.17,988.03 327.19,987.97 329.2,987.92 331.22,987.87 333.24,987.83 335.26,987.79 337.28,987.75 339.3,987.72 341.32,987.69 343.33,987.66 345.35,987.64 347.37,987.61 349.39,987.59 351.41,987.58 353.43,987.56 355.44,987.54 357.46,987.53 359.48,987.52 361.5,987.51" fill="none" stroke="#000000" stroke-width="1.5"/>
<circle cx="121.3" cy="1146.15" r="6.9" fill="#000000"/>
<circle cx="166.7" cy="1135.84" r="6.9" fill="#000000"/>
<circle cx="188.3" cy="1111.79" r="6.9" fill="#000000"/>
<circle cx="210" cy="1070.75" r="6.9" fill="#000000"/>
<circle cx="231.7" cy="1031.88" r="6.9" fill="#000000"/>
<circle cx="253.3" cy="1006.03" r="6.9" fill="#000000"/>
<circle cx="274.7" cy="997.89" r="6.9" fill="#000000"/>
<circle cx="296" cy="991.92" r="6.9" fill="#000000"/>
<circle cx="317.8" cy="989.93" r="6.9" fill="#000000"/>
<circle cx="339.5" cy="986.14" r="6.9" fill="#000000"/>
<circle cx="361.5" cy="983.24" r="6.9" fill="#000000"/>
<line x1="547" y1="1149.4" x2="811" y2="1149.4" stroke="#000" stroke-width="3.0" stroke-linecap="round" stroke-dasharray="0 8.15"/>
<line x1="547" y1="968.6" x2="811" y2="968.6" stroke="#000" stroke-width="3.0" stroke-linecap="round" stroke-dasharray="0 8.15"/>
<path d="M539 923.4V1194.6H810" fill="none" stroke="#262626" stroke-width="2.0" stroke-linecap="square"/>
<path d="M528 1149.4H539M533.5 1104.2H539M528 1059H539M533.5 1013.8H539M528 968.6H539M533.5 923.4H539M539 1194.6v10.5M552.6 1194.6v5.5M560.55 1194.6v5.5M566.19 1194.6v5.5M570.57 1194.6v5.5M574.15 1194.6v5.5M577.17 1194.6v5.5M579.79 1194.6v5.5M582.1 1194.6v5.5M584.17 1194.6v10.5M597.76 1194.6v5.5M605.72 1194.6v5.5M611.36 1194.6v5.5M615.74 1194.6v5.5M619.31 1194.6v5.5M622.34 1194.6v5.5M624.96 1194.6v5.5M627.27 1194.6v5.5M629.33 1194.6v10.5M642.93 1194.6v5.5M650.88 1194.6v5.5M656.53 1194.6v5.5M660.9 1194.6v5.5M664.48 1194.6v5.5M667.5 1194.6v5.5M670.12 1194.6v5.5M672.43 1194.6v5.5M674.5 1194.6v10.5M688.1 1194.6v5.5M696.05 1194.6v5.5M701.69 1194.6v5.5M706.07 1194.6v5.5M709.65 1194.6v5.5M712.67 1194.6v5.5M715.29 1194.6v5.5M717.6 1194.6v5.5M719.67 1194.6v10.5M733.26 1194.6v5.5M741.22 1194.6v5.5M746.86 1194.6v5.5M751.24 1194.6v5.5M754.81 1194.6v5.5M757.84 1194.6v5.5M760.46 1194.6v5.5M762.77 1194.6v5.5M764.83 1194.6v10.5M778.43 1194.6v5.5M786.38 1194.6v5.5M792.03 1194.6v5.5M796.4 1194.6v5.5M799.98 1194.6v5.5M803 1194.6v5.5M805.62 1194.6v5.5M807.93 1194.6v5.5M810 1194.6v10.5" fill="none" stroke="#262626" stroke-width="1.8"/>
<text transform="translate(525.2 1158.7) scale(1 1.04)" text-anchor="end" font-size="26.5">0</text>
<text transform="translate(525.2 1068.3) scale(1 1.04)" text-anchor="end" font-size="26.5">50</text>
<text transform="translate(525.2 977.9) scale(1 1.04)" text-anchor="end" font-size="26.5">100</text>
<text transform="translate(546.85 1229.15) rotate(-45)" text-anchor="end" font-size="25">10<tspan font-size="16.5" dx="2.5" dy="-9.3">-1</tspan></text>
<text transform="translate(592.02 1229.15) rotate(-45)" text-anchor="end" font-size="25">10<tspan font-size="16.5" dx="2.5" dy="-9.3">0</tspan></text>
<text transform="translate(637.18 1229.15) rotate(-45)" text-anchor="end" font-size="25">10<tspan font-size="16.5" dx="2.5" dy="-9.3">1</tspan></text>
<text transform="translate(682.35 1229.15) rotate(-45)" text-anchor="end" font-size="25">10<tspan font-size="16.5" dx="2.5" dy="-9.3">2</tspan></text>
<text transform="translate(727.52 1229.15) rotate(-45)" text-anchor="end" font-size="25">10<tspan font-size="16.5" dx="2.5" dy="-9.3">3</tspan></text>
<text transform="translate(772.68 1229.15) rotate(-45)" text-anchor="end" font-size="25">10<tspan font-size="16.5" dx="2.5" dy="-9.3">4</tspan></text>
<text transform="translate(817.85 1229.15) rotate(-45)" text-anchor="end" font-size="25">10<tspan font-size="16.5" dx="2.5" dy="-9.3">5</tspan></text>
<text x="512.9" y="913" font-weight="bold" font-size="22" letter-spacing="0.52">H1N1 A/Swine/Jiangsu/2018</text>
<text transform="translate(467 1045.15) rotate(-90)" text-anchor="middle" font-size="29">% of inhibition</text>
<text x="675.4" y="1281.5" text-anchor="middle" font-size="30.7">mAb (ng/ml)</text>
<polyline points="556.7,1148.05 558.72,1148.03 560.73,1148.01 562.75,1147.98 564.76,1147.95 566.78,1147.91 568.79,1147.87 570.81,1147.82 572.82,1147.77 574.84,1147.71 576.85,1147.64 578.87,1147.57 580.88,1147.48 582.9,1147.38 584.91,1147.27 586.93,1147.15 588.94,1147.01 590.96,1146.85 592.97,1146.66 594.99,1146.46 597,1146.23 599.02,1145.97 601.03,1145.67 603.05,1145.34 605.06,1144.96 607.08,1144.53 609.09,1144.05 611.11,1143.51 613.12,1142.9 615.14,1142.22 617.15,1141.45 619.17,1140.59 621.18,1139.62 623.2,1138.54 625.21,1137.33 627.23,1135.98 629.24,1134.47 631.26,1132.8 633.27,1130.94 635.29,1128.89 637.31,1126.62 639.32,1124.13 641.34,1121.4 643.35,1118.43 645.37,1115.19 647.38,1111.68 649.4,1107.91 651.41,1103.87 653.43,1099.57 655.44,1095.01 657.46,1090.21 659.47,1085.2 661.49,1080 663.5,1074.64 665.52,1069.16 667.53,1063.6 669.55,1058 671.56,1052.4 673.58,1046.85 675.59,1041.39 677.61,1036.06 679.62,1030.89 681.64,1025.91 683.65,1021.16 685.67,1016.65 687.68,1012.39 689.7,1008.4 691.71,1004.68 693.73,1001.23 695.74,998.04 697.76,995.11 699.77,992.42 701.79,989.98 703.8,987.75 705.82,985.74 707.83,983.92 709.85,982.28 711.86,980.8 713.88,979.47 715.89,978.29 717.91,977.23 719.93,976.28 721.94,975.44 723.96,974.68 725.97,974.01 727.99,973.42 730,972.89 732.02,972.42 734.03,972.01 736.05,971.64 738.06,971.31 740.08,971.02 742.09,970.76 744.11,970.54 746.12,970.34 748.14,970.16 750.15,970 752.17,969.86 754.18,969.74 756.2,969.63 758.21,969.54 760.23,969.45 762.24,969.38 764.26,969.31 766.27,969.26 768.29,969.2 770.3,969.16 772.32,969.12 774.33,969.08 776.35,969.05 778.36,969.02 780.38,969 782.39,968.98 784.41,968.96 786.42,968.94 788.44,968.93 790.45,968.92 792.47,968.9 794.48,968.89 796.5,968.88" fill="none" stroke="#a9a9ad" stroke-width="1.4"/>
<circle cx="556.7" cy="1148.5" r="6.9" fill="#a9a9ad"/>
<circle cx="601.7" cy="1148.5" r="6.9" fill="#a9a9ad"/>
<circle cx="623.6" cy="1134.94" r="6.9" fill="#a9a9ad"/>
<circle cx="645.4" cy="1113.42" r="6.9" fill="#a9a9ad"/>
<circle cx="666.9" cy="1068.76" r="6.9" fill="#a9a9ad"/>
<circle cx="688.7" cy="1008.01" r="6.9" fill="#a9a9ad"/>
<circle cx="710.4" cy="980.89" r="6.9" fill="#a9a9ad"/>
<circle cx="731.8" cy="973.12" r="6.9" fill="#a9a9ad"/>
<circle cx="753.2" cy="971.49" r="6.9" fill="#a9a9ad"/>
<circle cx="775.1" cy="968.6" r="6.9" fill="#a9a9ad"/>
<circle cx="796.5" cy="968.6" r="6.9" fill="#a9a9ad"/>
<polyline points="556.7,1147.35 558.72,1147 560.73,1146.64 562.75,1146.25 564.76,1145.84 566.78,1145.41 568.79,1144.94 570.81,1144.45 572.82,1143.93 574.84,1143.38 576.85,1142.79 578.87,1142.17 580.88,1141.51 582.9,1140.81 584.91,1140.08 586.93,1139.3 588.94,1138.47 590.96,1137.6 592.97,1136.68 594.99,1135.71 597,1134.69 599.02,1133.61 601.03,1132.47 603.05,1131.28 605.06,1130.03 607.08,1128.71 609.09,1127.33 611.11,1125.88 613.12,1124.36 615.14,1122.77 617.15,1121.12 619.17,1119.39 621.18,1117.58 623.2,1115.71 625.21,1113.76 627.23,1111.74 629.24,1109.64 631.26,1107.47 633.27,1105.23 635.29,1102.92 637.31,1100.53 639.32,1098.09 641.34,1095.57 643.35,1093 645.37,1090.37 647.38,1087.68 649.4,1084.94 651.41,1082.16 653.43,1079.33 655.44,1076.48 657.46,1073.59 659.47,1070.67 661.49,1067.74 663.5,1064.8 665.52,1061.84 667.53,1058.89 669.55,1055.95 671.56,1053.02 673.58,1050.1 675.59,1047.21 677.61,1044.35 679.62,1041.53 681.64,1038.75 683.65,1036.01 685.67,1033.33 687.68,1030.69 689.7,1028.12 691.71,1025.61 693.73,1023.16 695.74,1020.78 697.76,1018.47 699.77,1016.22 701.79,1014.05 703.8,1011.96 705.82,1009.94 707.83,1007.99 709.85,1006.11 711.86,1004.31 713.88,1002.58 715.89,1000.93 717.91,999.34 719.93,997.82 721.94,996.38 723.96,994.99 725.97,993.68 727.99,992.42 730,991.23 732.02,990.09 734.03,989.02 736.05,987.99 738.06,987.02 740.08,986.1 742.09,985.23 744.11,984.41 746.12,983.63 748.14,982.89 750.15,982.2 752.17,981.54 754.18,980.92 756.2,980.33 758.21,979.78 760.23,979.26 762.24,978.77 764.26,978.3 766.27,977.87 768.29,977.46 770.3,977.07 772.32,976.71 774.33,976.36 776.35,976.04 778.36,975.74 780.38,975.46 782.39,975.19 784.41,974.94 786.42,974.7 788.44,974.48 790.45,974.27 792.47,974.08 794.48,973.89 796.5,973.72" fill="none" stroke="#0a850a" stroke-width="1.4"/>
<circle cx="556.7" cy="1142.53" r="6.9" fill="#0a850a"/>
<circle cx="601.7" cy="1136.74" r="6.9" fill="#0a850a"/>
<circle cx="623.6" cy="1119.57" r="6.9" fill="#0a850a"/>
<circle cx="645.4" cy="1089.19" r="6.9" fill="#0a850a"/>
<circle cx="666.9" cy="1054.66" r="6.9" fill="#0a850a"/>
<circle cx="688.7" cy="1025.91" r="6.9" fill="#0a850a"/>
<circle cx="710.4" cy="1011.99" r="6.9" fill="#0a850a"/>
<circle cx="731.8" cy="994.45" r="6.9" fill="#0a850a"/>
<circle cx="753.2" cy="981.26" r="6.9" fill="#0a850a"/>
<circle cx="775.1" cy="973.48" r="6.9" fill="#0a850a"/>
<circle cx="796.5" cy="971.49" r="6.9" fill="#0a850a"/>
<polyline points="556.7,1146.08 558.72,1145.86 560.73,1145.62 562.75,1145.37 564.76,1145.1 566.78,1144.81 568.79,1144.5 570.81,1144.18 572.82,1143.83 574.84,1143.46 576.85,1143.07 578.87,1142.65 580.88,1142.21 582.9,1141.73 584.91,1141.23 586.93,1140.7 588.94,1140.13 590.96,1139.53 592.97,1138.89 594.99,1138.22 597,1137.5 599.02,1136.75 601.03,1135.94 603.05,1135.1 605.06,1134.2 607.08,1133.25 609.09,1132.25 611.11,1131.2 613.12,1130.09 615.14,1128.92 617.15,1127.69 619.17,1126.39 621.18,1125.03 623.2,1123.61 625.21,1122.12 627.23,1120.55 629.24,1118.92 631.26,1117.22 633.27,1115.44 635.29,1113.59 637.31,1111.66 639.32,1109.67 641.34,1107.59 643.35,1105.45 645.37,1103.24 647.38,1100.95 649.4,1098.6 651.41,1096.18 653.43,1093.7 655.44,1091.16 657.46,1088.57 659.47,1085.92 661.49,1083.23 663.5,1080.49 665.52,1077.72 667.53,1074.91 669.55,1072.08 671.56,1069.23 673.58,1066.36 675.59,1063.49 677.61,1060.61 679.62,1057.74 681.64,1054.89 683.65,1052.04 685.67,1049.23 687.68,1046.44 689.7,1043.68 691.71,1040.97 693.73,1038.3 695.74,1035.68 697.76,1033.12 699.77,1030.61 701.79,1028.17 703.8,1025.79 705.82,1023.47 707.83,1021.23 709.85,1019.06 711.86,1016.95 713.88,1014.92 715.89,1012.97 717.91,1011.08 719.93,1009.27 721.94,1007.54 723.96,1005.87 725.97,1004.28 727.99,1002.76 730,1001.3 732.02,999.92 734.03,998.59 736.05,997.34 738.06,996.14 740.08,995 742.09,993.92 744.11,992.9 746.12,991.93 748.14,991.01 750.15,990.14 752.17,989.32 754.18,988.55 756.2,987.81 758.21,987.12 760.23,986.47 762.24,985.85 764.26,985.27 766.27,984.72 768.29,984.21 770.3,983.72 772.32,983.26 774.33,982.84 776.35,982.43 778.36,982.05 780.38,981.7 782.39,981.36 784.41,981.04 786.42,980.75 788.44,980.47 790.45,980.21 792.47,979.97 794.48,979.74 796.5,979.52" fill="none" stroke="#ff0000" stroke-width="1.4"/>
<circle cx="556.7" cy="1152.29" r="6.9" fill="#ff0000"/>
<circle cx="601.7" cy="1141.63" r="6.9" fill="#ff0000"/>
<circle cx="623.6" cy="1131.32" r="6.9" fill="#ff0000"/>
<circle cx="645.4" cy="1103.3" r="6.9" fill="#ff0000"/>
<circle cx="666.9" cy="1064.79" r="6.9" fill="#ff0000"/>
<circle cx="688.7" cy="1039.47" r="6.9" fill="#ff0000"/>
<circle cx="710.4" cy="1027" r="6.9" fill="#ff0000"/>
<circle cx="731.8" cy="1008.01" r="6.9" fill="#ff0000"/>
<circle cx="753.2" cy="991.02" r="6.9" fill="#ff0000"/>
<circle cx="775.1" cy="979.45" r="6.9" fill="#ff0000"/>
<circle cx="796.5" cy="973.48" r="6.9" fill="#ff0000"/>
<polyline points="556.7,1150.97 558.72,1150.22 560.73,1149.45 562.75,1148.64 564.76,1147.81 566.78,1146.93 568.79,1146.03 570.81,1145.08 572.82,1144.11 574.84,1143.09 576.85,1142.04 578.87,1140.94 580.88,1139.81 582.9,1138.64 584.91,1137.42 586.93,1136.16 588.94,1134.86 590.96,1133.52 592.97,1132.13 594.99,1130.69 597,1129.22 599.02,1127.69 601.03,1126.12 603.05,1124.51 605.06,1122.85 607.08,1121.15 609.09,1119.4 611.11,1117.6 613.12,1115.76 615.14,1113.88 617.15,1111.95 619.17,1109.98 621.18,1107.97 623.2,1105.93 625.21,1103.84 627.23,1101.71 629.24,1099.55 631.26,1097.36 633.27,1095.13 635.29,1092.88 637.31,1090.59 639.32,1088.28 641.34,1085.95 643.35,1083.6 645.37,1081.23 647.38,1078.84 649.4,1076.44 651.41,1074.04 653.43,1071.62 655.44,1069.2 657.46,1066.78 659.47,1064.36 661.49,1061.95 663.5,1059.54 665.52,1057.14 667.53,1054.76 669.55,1052.39 671.56,1050.04 673.58,1047.71 675.59,1045.4 677.61,1043.12 679.62,1040.87 681.64,1038.64 683.65,1036.45 685.67,1034.3 687.68,1032.18 689.7,1030.09 691.71,1028.05 693.73,1026.04 695.74,1024.08 697.76,1022.16 699.77,1020.28 701.79,1018.44 703.8,1016.65 705.82,1014.91 707.83,1013.21 709.85,1011.55 711.86,1009.95 713.88,1008.38 715.89,1006.86 717.91,1005.39 719.93,1003.96 721.94,1002.58 723.96,1001.24 725.97,999.94 727.99,998.69 730,997.48 732.02,996.31 734.03,995.18 736.05,994.09 738.06,993.04 740.08,992.03 742.09,991.05 744.11,990.12 746.12,989.21 748.14,988.34 750.15,987.51 752.17,986.71 754.18,985.94 756.2,985.2 758.21,984.49 760.23,983.8 762.24,983.15 764.26,982.52 766.27,981.92 768.29,981.35 770.3,980.79 772.32,980.27 774.33,979.76 776.35,979.27 778.36,978.81 780.38,978.37 782.39,977.94 784.41,977.54 786.42,977.15 788.44,976.78 790.45,976.42 792.47,976.08 794.48,975.76 796.5,975.45" fill="none" stroke="#000000" stroke-width="1.5"/>
<circle cx="556.7" cy="1144.52" r="6.9" fill="#000000"/>
<circle cx="601.7" cy="1134.76" r="6.9" fill="#000000"/>
<circle cx="623.6" cy="1113.42" r="6.9" fill="#000000"/>
<circle cx="645.4" cy="1074.19" r="6.9" fill="#000000"/>
<circle cx="666.9" cy="1043.45" r="6.9" fill="#000000"/>
<circle cx="688.7" cy="1031.34" r="6.9" fill="#000000"/>
<circle cx="710.4" cy="1019.22" r="6.9" fill="#000000"/>
<circle cx="731.8" cy="1002.95" r="6.9" fill="#000000"/>
<circle cx="753.2" cy="987.04" r="6.9" fill="#000000"/>
<circle cx="775.1" cy="976.37" r="6.9" fill="#000000"/>
<circle cx="796.5" cy="971.49" r="6.9" fill="#000000"/>
<line x1="1026" y1="1149.4" x2="1290.5" y2="1149.4" stroke="#000" stroke-width="3.0" stroke-linecap="round" stroke-dasharray="0 8.15"/>
<line x1="1026" y1="968.6" x2="1290.5" y2="968.6" stroke="#000" stroke-width="3.0" stroke-linecap="round" stroke-dasharray="0 8.15"/>
<path d="M1018 923.4V1194.6H1289.5" fill="none" stroke="#262626" stroke-width="2.0" stroke-linecap="square"/>
<path d="M1007 1149.4H1018M1012.5 1104.2H1018M1007 1059H1018M1012.5 1013.8H1018M1007 968.6H1018M1012.5 923.4H1018M1018 1194.6v10.5M1031.62 1194.6v5.5M1039.59 1194.6v5.5M1045.24 1194.6v5.5M1049.63 1194.6v5.5M1053.21 1194.6v5.5M1056.24 1194.6v5.5M1058.86 1194.6v5.5M1061.18 1194.6v5.5M1063.25 1194.6v10.5M1076.87 1194.6v5.5M1084.84 1194.6v5.5M1090.49 1194.6v5.5M1094.88 1194.6v5.5M1098.46 1194.6v5.5M1101.49 1194.6v5.5M1104.11 1194.6v5.5M1106.43 1194.6v5.5M1108.5 1194.6v10.5M1122.12 1194.6v5.5M1130.09 1194.6v5.5M1135.74 1194.6v5.5M1140.13 1194.6v5.5M1143.71 1194.6v5.5M1146.74 1194.6v5.5M1149.36 1194.6v5.5M1151.68 1194.6v5.5M1153.75 1194.6v10.5M1167.37 1194.6v5.5M1175.34 1194.6v5.5M1180.99 1194.6v5.5M1185.38 1194.6v5.5M1188.96 1194.6v5.5M1191.99 1194.6v5.5M1194.61 1194.6v5.5M1196.93 1194.6v5.5M1199 1194.6v10.5M1212.62 1194.6v5.5M1220.59 1194.6v5.5M1226.24 1194.6v5.5M1230.63 1194.6v5.5M1234.21 1194.6v5.5M1237.24 1194.6v5.5M1239.86 1194.6v5.5M1242.18 1194.6v5.5M1244.25 1194.6v10.5M1257.87 1194.6v5.5M1265.84 1194.6v5.5M1271.49 1194.6v5.5M1275.88 1194.6v5.5M1279.46 1194.6v5.5M1282.49 1194.6v5.5M1285.11 1194.6v5.5M1287.43 1194.6v5.5M1289.5 1194.6v10.5" fill="none" stroke="#262626" stroke-width="1.8"/>
<text transform="translate(1004.2 1158.7) scale(1 1.04)" text-anchor="end" font-size="26.5">0</text>
<text transform="translate(1004.2 1068.3) scale(1 1.04)" text-anchor="end" font-size="26.5">50</text>
<text transform="translate(1004.2 977.9) scale(1 1.04)" text-anchor="end" font-size="26.5">100</text>
<text transform="translate(1025.85 1229.15) rotate(-45)" text-anchor="end" font-size="25">10<tspan font-size="16.5" dx="2.5" dy="-9.3">-1</tspan></text>
<text transform="translate(1071.1 1229.15) rotate(-45)" text-anchor="end" font-size="25">10<tspan font-size="16.5" dx="2.5" dy="-9.3">0</tspan></text>
<text transform="translate(1116.35 1229.15) rotate(-45)" text-anchor="end" font-size="25">10<tspan font-size="16.5" dx="2.5" dy="-9.3">1</tspan></text>
<text transform="translate(1161.6 1229.15) rotate(-45)" text-anchor="end" font-size="25">10<tspan font-size="16.5" dx="2.5" dy="-9.3">2</tspan></text>
<text transform="translate(1206.85 1229.15) rotate(-45)" text-anchor="end" font-size="25">10<tspan font-size="16.5" dx="2.5" dy="-9.3">3</tspan></text>
<text transform="translate(1252.1 1229.15) rotate(-45)" text-anchor="end" font-size="25">10<tspan font-size="16.5" dx="2.5" dy="-9.3">4</tspan></text>
<text transform="translate(1297.35 1229.15) rotate(-45)" text-anchor="end" font-size="25">10<tspan font-size="16.5" dx="2.5" dy="-9.3">5</tspan></text>
<text x="1003.3" y="912.8" font-weight="bold" font-size="22" letter-spacing="0.52">H1N2 A/Swine/Kansas/2021</text>
<text transform="translate(946 1045.15) rotate(-90)" text-anchor="middle" font-size="29">% of inhibition</text>
<text x="1154.55" y="1281.5" text-anchor="middle" font-size="30.7">mAb (ng/ml)</text>
<polyline points="1036.1,1147.95 1038.12,1147.78 1040.13,1147.6 1042.15,1147.39 1044.16,1147.16 1046.18,1146.9 1048.19,1146.61 1050.21,1146.29 1052.22,1145.94 1054.24,1145.54 1056.25,1145.1 1058.27,1144.61 1060.28,1144.07 1062.3,1143.46 1064.31,1142.8 1066.33,1142.06 1068.34,1141.24 1070.36,1140.33 1072.37,1139.33 1074.39,1138.23 1076.4,1137.01 1078.42,1135.68 1080.43,1134.21 1082.45,1132.6 1084.46,1130.84 1086.48,1128.92 1088.49,1126.82 1090.51,1124.55 1092.52,1122.08 1094.54,1119.42 1096.55,1116.56 1098.57,1113.49 1100.58,1110.2 1102.6,1106.7 1104.61,1103 1106.63,1099.09 1108.64,1094.98 1110.66,1090.69 1112.67,1086.23 1114.69,1081.62 1116.71,1076.88 1118.72,1072.03 1120.74,1067.11 1122.75,1062.14 1124.77,1057.15 1126.78,1052.17 1128.8,1047.24 1130.81,1042.37 1132.83,1037.6 1134.84,1032.96 1136.86,1028.46 1138.87,1024.13 1140.89,1019.98 1142.9,1016.02 1144.92,1012.26 1146.93,1008.71 1148.95,1005.38 1150.96,1002.25 1152.98,999.34 1154.99,996.63 1157.01,994.11 1159.02,991.79 1161.04,989.66 1163.05,987.7 1165.07,985.9 1167.08,984.25 1169.1,982.75 1171.11,981.38 1173.13,980.14 1175.14,979.01 1177.16,977.98 1179.17,977.06 1181.19,976.22 1183.2,975.46 1185.22,974.77 1187.23,974.16 1189.25,973.6 1191.26,973.1 1193.28,972.65 1195.29,972.24 1197.31,971.87 1199.33,971.55 1201.34,971.25 1203.36,970.99 1205.37,970.75 1207.39,970.53 1209.4,970.34 1211.42,970.17 1213.43,970.02 1215.45,969.88 1217.46,969.75 1219.48,969.64 1221.49,969.54 1223.51,969.45 1225.52,969.37 1227.54,969.3 1229.55,969.24 1231.57,969.18 1233.58,969.13 1235.6,969.08 1237.61,969.04 1239.63,969 1241.64,968.97 1243.66,968.94 1245.67,968.91 1247.69,968.89 1249.7,968.87 1251.72,968.85 1253.73,968.83 1255.75,968.81 1257.76,968.8 1259.78,968.79 1261.79,968.78 1263.81,968.77 1265.82,968.76 1267.84,968.75 1269.85,968.74 1271.87,968.74 1273.88,968.73 1275.9,968.73" fill="none" stroke="#a9a9ad" stroke-width="1.4"/>
<circle cx="1036.1" cy="1146.69" r="6.9" fill="#a9a9ad"/>
<circle cx="1081.3" cy="1130.96" r="6.9" fill="#a9a9ad"/>
<circle cx="1103.1" cy="1106.55" r="6.9" fill="#a9a9ad"/>
<circle cx="1125" cy="1058.1" r="6.9" fill="#a9a9ad"/>
<circle cx="1146.4" cy="1008.38" r="6.9" fill="#a9a9ad"/>
<circle cx="1168.1" cy="981.62" r="6.9" fill="#a9a9ad"/>
<circle cx="1189.7" cy="975.47" r="6.9" fill="#a9a9ad"/>
<circle cx="1211" cy="971.13" r="6.9" fill="#a9a9ad"/>
<circle cx="1232.4" cy="968.6" r="6.9" fill="#a9a9ad"/>
<circle cx="1254.1" cy="968.6" r="6.9" fill="#a9a9ad"/>
<circle cx="1275.9" cy="968.6" r="6.9" fill="#a9a9ad"/>
<polyline points="1036.1,1147.51 1038.12,1147.42 1040.13,1147.32 1042.15,1147.22 1044.16,1147.1 1046.18,1146.97 1048.19,1146.83 1050.21,1146.68 1052.22,1146.51 1054.24,1146.33 1056.25,1146.13 1058.27,1145.91 1060.28,1145.67 1062.3,1145.42 1064.31,1145.14 1066.33,1144.83 1068.34,1144.5 1070.36,1144.13 1072.37,1143.74 1074.39,1143.31 1076.4,1142.84 1078.42,1142.34 1080.43,1141.79 1082.45,1141.19 1084.46,1140.54 1086.48,1139.84 1088.49,1139.08 1090.51,1138.25 1092.52,1137.36 1094.54,1136.4 1096.55,1135.36 1098.57,1134.23 1100.58,1133.02 1102.6,1131.72 1104.61,1130.32 1106.63,1128.82 1108.64,1127.21 1110.66,1125.49 1112.67,1123.65 1114.69,1121.7 1116.71,1119.61 1118.72,1117.4 1120.74,1115.05 1122.75,1112.58 1124.77,1109.96 1126.78,1107.22 1128.8,1104.34 1130.81,1101.33 1132.83,1098.19 1134.84,1094.93 1136.86,1091.55 1138.87,1088.06 1140.89,1084.47 1142.9,1080.8 1144.92,1077.04 1146.93,1073.22 1148.95,1069.35 1150.96,1065.44 1152.98,1061.51 1154.99,1057.57 1157.01,1053.65 1159.02,1049.74 1161.04,1045.88 1163.05,1042.07 1165.07,1038.32 1167.08,1034.66 1169.1,1031.09 1171.11,1027.62 1173.13,1024.26 1175.14,1021.01 1177.16,1017.9 1179.17,1014.91 1181.19,1012.05 1183.2,1009.32 1185.22,1006.73 1187.23,1004.27 1189.25,1001.95 1191.26,999.76 1193.28,997.69 1195.29,995.75 1197.31,993.94 1199.33,992.23 1201.34,990.64 1203.36,989.16 1205.37,987.77 1207.39,986.49 1209.4,985.29 1211.42,984.18 1213.43,983.15 1215.45,982.2 1217.46,981.32 1219.48,980.51 1221.49,979.75 1223.51,979.06 1225.52,978.42 1227.54,977.83 1229.55,977.29 1231.57,976.79 1233.58,976.33 1235.6,975.9 1237.61,975.51 1239.63,975.16 1241.64,974.83 1243.66,974.53 1245.67,974.25 1247.69,973.99 1249.7,973.76 1251.72,973.55 1253.73,973.35 1255.75,973.17 1257.76,973.01 1259.78,972.86 1261.79,972.72 1263.81,972.59 1265.82,972.47 1267.84,972.37 1269.85,972.27 1271.87,972.18 1273.88,972.1 1275.9,972.02" fill="none" stroke="#0a850a" stroke-width="1.4"/>
<circle cx="1036.1" cy="1146.69" r="6.9" fill="#0a850a"/>
<circle cx="1081.3" cy="1135.84" r="6.9" fill="#0a850a"/>
<circle cx="1103.1" cy="1130.96" r="6.9" fill="#0a850a"/>
<circle cx="1125" cy="1111.07" r="6.9" fill="#0a850a"/>
<circle cx="1146.4" cy="1076.9" r="6.9" fill="#0a850a"/>
<circle cx="1168.1" cy="1030.8" r="6.9" fill="#0a850a"/>
<circle cx="1189.7" cy="998.43" r="6.9" fill="#0a850a"/>
<circle cx="1211" cy="987.04" r="6.9" fill="#0a850a"/>
<circle cx="1232.4" cy="979.63" r="6.9" fill="#0a850a"/>
<circle cx="1254.1" cy="973.12" r="6.9" fill="#0a850a"/>
<circle cx="1275.9" cy="969.5" r="6.9" fill="#0a850a"/>
<polyline points="1036.1,1151.39 1081.3,1149.4 1103.1,1149.4 1125,1142.53 1146.4,1136.74 1168.1,1120.29 1189.7,1086.3 1211,1055.02 1232.4,1033.69 1254.1,1014.34 1275.9,997.71" fill="none" stroke="#ff0000" stroke-width="1.4"/>
<circle cx="1036.1" cy="1151.39" r="6.9" fill="#ff0000"/>
<circle cx="1081.3" cy="1149.4" r="6.9" fill="#ff0000"/>
<circle cx="1103.1" cy="1149.4" r="6.9" fill="#ff0000"/>
<circle cx="1125" cy="1142.53" r="6.9" fill="#ff0000"/>
<circle cx="1146.4" cy="1136.74" r="6.9" fill="#ff0000"/>
<circle cx="1168.1" cy="1120.29" r="6.9" fill="#ff0000"/>
<circle cx="1189.7" cy="1086.3" r="6.9" fill="#ff0000"/>
<circle cx="1211" cy="1055.02" r="6.9" fill="#ff0000"/>
<circle cx="1232.4" cy="1033.69" r="6.9" fill="#ff0000"/>
<circle cx="1254.1" cy="1014.34" r="6.9" fill="#ff0000"/>
<circle cx="1275.9" cy="997.71" r="6.9" fill="#ff0000"/>
<polyline points="1036.1,1148.05 1038.12,1148 1040.13,1147.95 1042.15,1147.9 1044.16,1147.84 1046.18,1147.78 1048.19,1147.7 1050.21,1147.63 1052.22,1147.54 1054.24,1147.44 1056.25,1147.34 1058.27,1147.23 1060.28,1147.1 1062.3,1146.96 1064.31,1146.81 1066.33,1146.64 1068.34,1146.46 1070.36,1146.26 1072.37,1146.04 1074.39,1145.8 1076.4,1145.54 1078.42,1145.25 1080.43,1144.93 1082.45,1144.58 1084.46,1144.2 1086.48,1143.79 1088.49,1143.33 1090.51,1142.84 1092.52,1142.29 1094.54,1141.7 1096.55,1141.05 1098.57,1140.34 1100.58,1139.58 1102.6,1138.74 1104.61,1137.83 1106.63,1136.84 1108.64,1135.77 1110.66,1134.6 1112.67,1133.34 1114.69,1131.98 1116.71,1130.52 1118.72,1128.94 1120.74,1127.24 1122.75,1125.41 1124.77,1123.46 1126.78,1121.37 1128.8,1119.15 1130.81,1116.78 1132.83,1114.27 1134.84,1111.62 1136.86,1108.83 1138.87,1105.89 1140.89,1102.82 1142.9,1099.61 1144.92,1096.28 1146.93,1092.83 1148.95,1089.27 1150.96,1085.61 1152.98,1081.87 1154.99,1078.06 1157.01,1074.2 1159.02,1070.3 1161.04,1066.38 1163.05,1062.46 1165.07,1058.56 1167.08,1054.68 1169.1,1050.86 1171.11,1047.11 1173.13,1043.43 1175.14,1039.85 1177.16,1036.38 1179.17,1033.02 1181.19,1029.79 1183.2,1026.69 1185.22,1023.72 1187.23,1020.9 1189.25,1018.22 1191.26,1015.68 1193.28,1013.29 1195.29,1011.04 1197.31,1008.92 1199.33,1006.94 1201.34,1005.09 1203.36,1003.37 1205.37,1001.76 1207.39,1000.27 1209.4,998.89 1211.42,997.61 1213.43,996.43 1215.45,995.34 1217.46,994.33 1219.48,993.41 1221.49,992.56 1223.51,991.77 1225.52,991.05 1227.54,990.4 1229.55,989.79 1231.57,989.24 1233.58,988.73 1235.6,988.27 1237.61,987.84 1239.63,987.46 1241.64,987.1 1243.66,986.78 1245.67,986.49 1247.69,986.22 1249.7,985.97 1251.72,985.75 1253.73,985.54 1255.75,985.36 1257.76,985.19 1259.78,985.03 1261.79,984.89 1263.81,984.77 1265.82,984.65 1267.84,984.54 1269.85,984.45 1271.87,984.36 1273.88,984.28 1275.9,984.2" fill="none" stroke="#000000" stroke-width="1.5"/>
<circle cx="1036.1" cy="1143.61" r="6.9" fill="#000000"/>
<circle cx="1081.3" cy="1143.61" r="6.9" fill="#000000"/>
<circle cx="1103.1" cy="1138.37" r="6.9" fill="#000000"/>
<circle cx="1125" cy="1122.82" r="6.9" fill="#000000"/>
<circle cx="1146.4" cy="1097.87" r="6.9" fill="#000000"/>
<circle cx="1168.1" cy="1049.24" r="6.9" fill="#000000"/>
<circle cx="1189.7" cy="1014.88" r="6.9" fill="#000000"/>
<circle cx="1211" cy="1002.23" r="6.9" fill="#000000"/>
<circle cx="1232.4" cy="994.45" r="6.9" fill="#000000"/>
<circle cx="1254.1" cy="985.05" r="6.9" fill="#000000"/>
<circle cx="1275.9" cy="978.36" r="6.9" fill="#000000"/>
<line x1="111.5" y1="1574.9" x2="376.5" y2="1574.9" stroke="#000" stroke-width="3.0" stroke-linecap="round" stroke-dasharray="0 8.15"/>
<line x1="111.5" y1="1393.9" x2="376.5" y2="1393.9" stroke="#000" stroke-width="3.0" stroke-linecap="round" stroke-dasharray="0 8.15"/>
<path d="M103.5 1348.65V1620.15H375.5" fill="none" stroke="#262626" stroke-width="2.0" stroke-linecap="square"/>
<path d="M92.5 1574.9H103.5M98 1529.65H103.5M92.5 1484.4H103.5M98 1439.15H103.5M92.5 1393.9H103.5M98 1348.65H103.5M103.5 1620.15v10.5M117.15 1620.15v5.5M125.13 1620.15v5.5M130.79 1620.15v5.5M135.19 1620.15v5.5M138.78 1620.15v5.5M141.81 1620.15v5.5M144.44 1620.15v5.5M146.76 1620.15v5.5M148.83 1620.15v10.5M162.48 1620.15v5.5M170.46 1620.15v5.5M176.13 1620.15v5.5M180.52 1620.15v5.5M184.11 1620.15v5.5M187.14 1620.15v5.5M189.77 1620.15v5.5M192.09 1620.15v5.5M194.17 1620.15v10.5M207.81 1620.15v5.5M215.8 1620.15v5.5M221.46 1620.15v5.5M225.85 1620.15v5.5M229.44 1620.15v5.5M232.48 1620.15v5.5M235.11 1620.15v5.5M237.43 1620.15v5.5M239.5 1620.15v10.5M253.15 1620.15v5.5M261.13 1620.15v5.5M266.79 1620.15v5.5M271.19 1620.15v5.5M274.78 1620.15v5.5M277.81 1620.15v5.5M280.44 1620.15v5.5M282.76 1620.15v5.5M284.83 1620.15v10.5M298.48 1620.15v5.5M306.46 1620.15v5.5M312.13 1620.15v5.5M316.52 1620.15v5.5M320.11 1620.15v5.5M323.14 1620.15v5.5M325.77 1620.15v5.5M328.09 1620.15v5.5M330.17 1620.15v10.5M343.81 1620.15v5.5M351.8 1620.15v5.5M357.46 1620.15v5.5M361.85 1620.15v5.5M365.44 1620.15v5.5M368.48 1620.15v5.5M371.11 1620.15v5.5M373.43 1620.15v5.5M375.5 1620.15v10.5" fill="none" stroke="#262626" stroke-width="1.8"/>
<text transform="translate(89.7 1584.2) scale(1 1.04)" text-anchor="end" font-size="26.5">0</text>
<text transform="translate(89.7 1493.7) scale(1 1.04)" text-anchor="end" font-size="26.5">50</text>
<text transform="translate(89.7 1403.2) scale(1 1.04)" text-anchor="end" font-size="26.5">100</text>
<text transform="translate(111.35 1654.7) rotate(-45)" text-anchor="end" font-size="25">10<tspan font-size="16.5" dx="2.5" dy="-9.3">-1</tspan></text>
<text transform="translate(156.68 1654.7) rotate(-45)" text-anchor="end" font-size="25">10<tspan font-size="16.5" dx="2.5" dy="-9.3">0</tspan></text>
<text transform="translate(202.02 1654.7) rotate(-45)" text-anchor="end" font-size="25">10<tspan font-size="16.5" dx="2.5" dy="-9.3">1</tspan></text>
<text transform="translate(247.35 1654.7) rotate(-45)" text-anchor="end" font-size="25">10<tspan font-size="16.5" dx="2.5" dy="-9.3">2</tspan></text>
<text transform="translate(292.68 1654.7) rotate(-45)" text-anchor="end" font-size="25">10<tspan font-size="16.5" dx="2.5" dy="-9.3">3</tspan></text>
<text transform="translate(338.02 1654.7) rotate(-45)" text-anchor="end" font-size="25">10<tspan font-size="16.5" dx="2.5" dy="-9.3">4</tspan></text>
<text transform="translate(383.35 1654.7) rotate(-45)" text-anchor="end" font-size="25">10<tspan font-size="16.5" dx="2.5" dy="-9.3">5</tspan></text>
<text x="93.1" y="1325.5" font-weight="bold" font-size="22" letter-spacing="0.52">H4N6 A/Swine/Ontario/99</text>
<text transform="translate(31.5 1483.45) rotate(-90)" text-anchor="middle" font-size="29">% of inhibition</text>
<text x="240.2" y="1706.8" text-anchor="middle" font-size="30.7">mAb (ng/ml)</text>
<polyline points="121.3,1577.8 166.7,1579.79 188.6,1579.79 210,1574 231.7,1561.33 253.3,1543.77 275,1514.63 296.4,1482.77 317.8,1463.95 339.5,1453.27 360.9,1444.58" fill="none" stroke="#a9a9ad" stroke-width="1.4"/>
<circle cx="121.3" cy="1577.8" r="6.9" fill="#a9a9ad"/>
<circle cx="166.7" cy="1579.79" r="6.9" fill="#a9a9ad"/>
<circle cx="188.6" cy="1579.79" r="6.9" fill="#a9a9ad"/>
<circle cx="210" cy="1574" r="6.9" fill="#a9a9ad"/>
<circle cx="231.7" cy="1561.33" r="6.9" fill="#a9a9ad"/>
<circle cx="253.3" cy="1543.77" r="6.9" fill="#a9a9ad"/>
<circle cx="275" cy="1514.63" r="6.9" fill="#a9a9ad"/>
<circle cx="296.4" cy="1482.77" r="6.9" fill="#a9a9ad"/>
<circle cx="317.8" cy="1463.95" r="6.9" fill="#a9a9ad"/>
<circle cx="339.5" cy="1453.27" r="6.9" fill="#a9a9ad"/>
<circle cx="360.9" cy="1444.58" r="6.9" fill="#a9a9ad"/>
<polyline points="121.3,1575.81 166.7,1576.71 188.6,1576.89 210,1574.9 231.7,1573.45 253.3,1567.12 275,1554.09 296.4,1533.45 317.8,1515.53 339.5,1499.6 360.9,1486.03" fill="none" stroke="#0a850a" stroke-width="1.4"/>
<circle cx="121.3" cy="1575.81" r="6.9" fill="#0a850a"/>
<circle cx="166.7" cy="1576.71" r="6.9" fill="#0a850a"/>
<circle cx="188.6" cy="1576.89" r="6.9" fill="#0a850a"/>
<circle cx="210" cy="1574.9" r="6.9" fill="#0a850a"/>
<circle cx="231.7" cy="1573.45" r="6.9" fill="#0a850a"/>
<circle cx="253.3" cy="1567.12" r="6.9" fill="#0a850a"/>
<circle cx="275" cy="1554.09" r="6.9" fill="#0a850a"/>
<circle cx="296.4" cy="1533.45" r="6.9" fill="#0a850a"/>
<circle cx="317.8" cy="1515.53" r="6.9" fill="#0a850a"/>
<circle cx="339.5" cy="1499.6" r="6.9" fill="#0a850a"/>
<circle cx="360.9" cy="1486.03" r="6.9" fill="#0a850a"/>
<polyline points="121.3,1570.92 166.7,1574 188.6,1572.91 210,1568.57 231.7,1567.12 253.3,1552.09 275,1543.23 296.4,1525.31 317.8,1511.73 339.5,1492.18 360.9,1476.98" fill="none" stroke="#ff0000" stroke-width="1.4"/>
<circle cx="121.3" cy="1570.92" r="6.9" fill="#ff0000"/>
<circle cx="166.7" cy="1574" r="6.9" fill="#ff0000"/>
<circle cx="188.6" cy="1572.91" r="6.9" fill="#ff0000"/>
<circle cx="210" cy="1568.57" r="6.9" fill="#ff0000"/>
<circle cx="231.7" cy="1567.12" r="6.9" fill="#ff0000"/>
<circle cx="253.3" cy="1552.09" r="6.9" fill="#ff0000"/>
<circle cx="275" cy="1543.23" r="6.9" fill="#ff0000"/>
<circle cx="296.4" cy="1525.31" r="6.9" fill="#ff0000"/>
<circle cx="317.8" cy="1511.73" r="6.9" fill="#ff0000"/>
<circle cx="339.5" cy="1492.18" r="6.9" fill="#ff0000"/>
<circle cx="360.9" cy="1476.98" r="6.9" fill="#ff0000"/>
<polyline points="121.3,1577.61 123.31,1577.46 125.33,1577.31 127.34,1577.14 129.35,1576.97 131.37,1576.78 133.38,1576.58 135.39,1576.36 137.41,1576.14 139.42,1575.89 141.43,1575.63 143.45,1575.36 145.46,1575.06 147.47,1574.75 149.49,1574.41 151.5,1574.05 153.52,1573.67 155.53,1573.27 157.54,1572.84 159.56,1572.38 161.57,1571.9 163.58,1571.38 165.6,1570.83 167.61,1570.25 169.62,1569.64 171.64,1568.98 173.65,1568.29 175.66,1567.56 177.68,1566.78 179.69,1565.97 181.7,1565.1 183.72,1564.19 185.73,1563.23 187.74,1562.21 189.76,1561.15 191.77,1560.03 193.78,1558.85 195.8,1557.62 197.81,1556.33 199.82,1554.98 201.84,1553.57 203.85,1552.09 205.86,1550.56 207.88,1548.96 209.89,1547.3 211.91,1545.58 213.92,1543.8 215.93,1541.97 217.95,1540.07 219.96,1538.12 221.97,1536.11 223.99,1534.05 226,1531.94 228.01,1529.79 230.03,1527.6 232.04,1525.36 234.05,1523.1 236.07,1520.8 238.08,1518.49 240.09,1516.15 242.11,1513.8 244.12,1511.44 246.13,1509.08 248.15,1506.72 250.16,1504.37 252.17,1502.03 254.19,1499.72 256.2,1497.42 258.21,1495.15 260.23,1492.92 262.24,1490.72 264.25,1488.57 266.27,1486.46 268.28,1484.4 270.29,1482.39 272.31,1480.43 274.32,1478.54 276.34,1476.69 278.35,1474.91 280.36,1473.19 282.38,1471.53 284.39,1469.93 286.4,1468.39 288.42,1466.92 290.43,1465.5 292.44,1464.15 294.46,1462.85 296.47,1461.62 298.48,1460.44 300.5,1459.32 302.51,1458.25 304.52,1457.24 306.54,1456.27 308.55,1455.36 310.56,1454.49 312.58,1453.67 314.59,1452.89 316.6,1452.16 318.62,1451.47 320.63,1450.81 322.64,1450.19 324.66,1449.61 326.67,1449.06 328.68,1448.55 330.7,1448.06 332.71,1447.6 334.73,1447.17 336.74,1446.76 338.75,1446.38 340.77,1446.02 342.78,1445.69 344.79,1445.37 346.81,1445.08 348.82,1444.8 350.83,1444.54 352.85,1444.29 354.86,1444.07 356.87,1443.85 358.89,1443.65 360.9,1443.46" fill="none" stroke="#000000" stroke-width="1.5"/>
<circle cx="121.3" cy="1573.45" r="6.9" fill="#000000"/>
<circle cx="166.7" cy="1572.37" r="6.9" fill="#000000"/>
<circle cx="188.6" cy="1565.13" r="6.9" fill="#000000"/>
<circle cx="210" cy="1549.02" r="6.9" fill="#000000"/>
<circle cx="231.7" cy="1525.31" r="6.9" fill="#000000"/>
<circle cx="253.3" cy="1494.54" r="6.9" fill="#000000"/>
<circle cx="275" cy="1477.52" r="6.9" fill="#000000"/>
<circle cx="296.4" cy="1467.93" r="6.9" fill="#000000"/>
<circle cx="317.8" cy="1454.9" r="6.9" fill="#000000"/>
<circle cx="339.5" cy="1447.11" r="6.9" fill="#000000"/>
<circle cx="360.9" cy="1437.34" r="6.9" fill="#000000"/>
<line x1="552.4" y1="1577" x2="817.1" y2="1577" stroke="#555" stroke-width="2.4" stroke-linecap="round" stroke-dasharray="0 8.15"/>
<line x1="552.4" y1="1396.2" x2="817.1" y2="1396.2" stroke="#555" stroke-width="2.4" stroke-linecap="round" stroke-dasharray="0 8.15"/>
<path d="M544.4 1351V1622.2H816.1" fill="none" stroke="#262626" stroke-width="2.0" stroke-linecap="square"/>
<path d="M533.4 1577H544.4M538.9 1531.8H544.4M533.4 1486.6H544.4M538.9 1441.4H544.4M533.4 1396.2H544.4M538.9 1351H544.4M544.4 1622.2v10.5M554.62 1622.2v5.5M560.6 1622.2v5.5M564.85 1622.2v5.5M568.14 1622.2v5.5M570.83 1622.2v5.5M573.1 1622.2v5.5M575.07 1622.2v5.5M576.81 1622.2v5.5M578.36 1622.2v10.5M588.59 1622.2v5.5M594.57 1622.2v5.5M598.81 1622.2v5.5M602.1 1622.2v5.5M604.79 1622.2v5.5M607.06 1622.2v5.5M609.03 1622.2v5.5M610.77 1622.2v5.5M612.32 1622.2v10.5M622.55 1622.2v5.5M628.53 1622.2v5.5M632.77 1622.2v5.5M636.06 1622.2v5.5M638.75 1622.2v5.5M641.03 1622.2v5.5M643 1622.2v5.5M644.73 1622.2v5.5M646.29 1622.2v10.5M656.51 1622.2v5.5M662.49 1622.2v5.5M666.73 1622.2v5.5M670.03 1622.2v5.5M672.72 1622.2v5.5M674.99 1622.2v5.5M676.96 1622.2v5.5M678.7 1622.2v5.5M680.25 1622.2v10.5M690.47 1622.2v5.5M696.45 1622.2v5.5M700.7 1622.2v5.5M703.99 1622.2v5.5M706.68 1622.2v5.5M708.95 1622.2v5.5M710.92 1622.2v5.5M712.66 1622.2v5.5M714.21 1622.2v10.5M724.44 1622.2v5.5M730.42 1622.2v5.5M734.66 1622.2v5.5M737.95 1622.2v5.5M740.64 1622.2v5.5M742.91 1622.2v5.5M744.88 1622.2v5.5M746.62 1622.2v5.5M748.17 1622.2v10.5M758.4 1622.2v5.5M764.38 1622.2v5.5M768.62 1622.2v5.5M771.91 1622.2v5.5M774.6 1622.2v5.5M776.88 1622.2v5.5M778.85 1622.2v5.5M780.58 1622.2v5.5M782.14 1622.2v10.5M792.36 1622.2v5.5M798.34 1622.2v5.5M802.58 1622.2v5.5M805.88 1622.2v5.5M808.57 1622.2v5.5M810.84 1622.2v5.5M812.81 1622.2v5.5M814.55 1622.2v5.5M816.1 1622.2v10.5" fill="none" stroke="#262626" stroke-width="1.8"/>
<text transform="translate(530.6 1586.3) scale(1 1.04)" text-anchor="end" font-size="26.5">0</text>
<text transform="translate(530.6 1495.9) scale(1 1.04)" text-anchor="end" font-size="26.5">50</text>
<text transform="translate(530.6 1405.5) scale(1 1.04)" text-anchor="end" font-size="26.5">100</text>
<text transform="translate(552.25 1656.75) rotate(-45)" text-anchor="end" font-size="25">10<tspan font-size="16.5" dx="2.5" dy="-9.3">-2</tspan></text>
<text transform="translate(586.21 1656.75) rotate(-45)" text-anchor="end" font-size="25">10<tspan font-size="16.5" dx="2.5" dy="-9.3">-1</tspan></text>
<text transform="translate(620.17 1656.75) rotate(-45)" text-anchor="end" font-size="25">10<tspan font-size="16.5" dx="2.5" dy="-9.3">0</tspan></text>
<text transform="translate(654.14 1656.75) rotate(-45)" text-anchor="end" font-size="25">10<tspan font-size="16.5" dx="2.5" dy="-9.3">1</tspan></text>
<text transform="translate(688.1 1656.75) rotate(-45)" text-anchor="end" font-size="25">10<tspan font-size="16.5" dx="2.5" dy="-9.3">2</tspan></text>
<text transform="translate(722.06 1656.75) rotate(-45)" text-anchor="end" font-size="25">10<tspan font-size="16.5" dx="2.5" dy="-9.3">3</tspan></text>
<text transform="translate(756.02 1656.75) rotate(-45)" text-anchor="end" font-size="25">10<tspan font-size="16.5" dx="2.5" dy="-9.3">4</tspan></text>
<text transform="translate(789.99 1656.75) rotate(-45)" text-anchor="end" font-size="25">10<tspan font-size="16.5" dx="2.5" dy="-9.3">5</tspan></text>
<text transform="translate(823.95 1656.75) rotate(-45)" text-anchor="end" font-size="25">10<tspan font-size="16.5" dx="2.5" dy="-9.3">6</tspan></text>
<text x="460.2" y="1325.8" font-weight="bold" font-size="22" letter-spacing="0.52">H3N2 A/Canine/Indiana/003018/2016</text>
<text transform="translate(471.6 1481) rotate(-90)" text-anchor="middle" font-size="30.7">% of inhibition</text>
<text x="692.05" y="1707" text-anchor="middle" font-size="30.7">mAb (ng/ml)</text>
<polyline points="591.4,1573.4 592.91,1572.85 594.42,1572.27 595.93,1571.65 597.44,1570.98 598.95,1570.26 600.46,1569.49 601.96,1568.66 603.47,1567.78 604.98,1566.84 606.49,1565.83 608,1564.76 609.51,1563.61 611.02,1562.4 612.53,1561.1 614.04,1559.73 615.55,1558.27 617.06,1556.73 618.57,1555.1 620.08,1553.38 621.58,1551.57 623.09,1549.66 624.6,1547.66 626.11,1545.57 627.62,1543.38 629.13,1541.09 630.64,1538.71 632.15,1536.24 633.66,1533.69 635.17,1531.04 636.68,1528.32 638.19,1525.52 639.7,1522.66 641.21,1519.73 642.71,1516.74 644.22,1513.71 645.73,1510.64 647.24,1507.54 648.75,1504.42 650.26,1501.29 651.77,1498.16 653.28,1495.03 654.79,1491.93 656.3,1488.85 657.81,1485.81 659.32,1482.81 660.83,1479.87 662.33,1476.99 663.84,1474.18 665.35,1471.44 666.86,1468.78 668.37,1466.2 669.88,1463.71 671.39,1461.31 672.9,1459.01 674.41,1456.79 675.92,1454.68 677.43,1452.66 678.94,1450.73 680.45,1448.9 681.95,1447.16 683.46,1445.51 684.97,1443.94 686.48,1442.47 687.99,1441.08 689.5,1439.76 691.01,1438.53 692.52,1437.37 694.03,1436.28 695.54,1435.26 697.05,1434.3 698.56,1433.41 700.07,1432.57 701.57,1431.79 703.08,1431.06 704.59,1430.38 706.1,1429.74 707.61,1429.15 709.12,1428.6 710.63,1428.09 712.14,1427.61 713.65,1427.17 715.16,1426.76 716.67,1426.37 718.18,1426.02 719.69,1425.69 721.19,1425.38 722.7,1425.1 724.21,1424.84 725.72,1424.59 727.23,1424.37 728.74,1424.16 730.25,1423.96 731.76,1423.78 733.27,1423.62 734.78,1423.46 736.29,1423.32 737.8,1423.19 739.31,1423.07 740.82,1422.95 742.32,1422.85 743.83,1422.75 745.34,1422.66 746.85,1422.58 748.36,1422.5 749.87,1422.43 751.38,1422.36 752.89,1422.3 754.4,1422.25 755.91,1422.2 757.42,1422.15 758.93,1422.1 760.44,1422.06 761.94,1422.02 763.45,1421.99 764.96,1421.96 766.47,1421.93 767.98,1421.9 769.49,1421.87 771,1421.85" fill="none" stroke="#a9a9ad" stroke-width="1.4"/>
<circle cx="591.4" cy="1572.3" r="5.5" fill="#a9a9ad"/>
<circle cx="625.3" cy="1548.25" r="5.5" fill="#a9a9ad"/>
<circle cx="641.7" cy="1520.41" r="5.5" fill="#a9a9ad"/>
<circle cx="657.8" cy="1482.26" r="5.5" fill="#a9a9ad"/>
<circle cx="674.3" cy="1456.41" r="5.5" fill="#a9a9ad"/>
<circle cx="690.2" cy="1441.22" r="5.5" fill="#a9a9ad"/>
<circle cx="706.3" cy="1432.54" r="5.5" fill="#a9a9ad"/>
<circle cx="722.4" cy="1426.03" r="5.5" fill="#a9a9ad"/>
<circle cx="738.3" cy="1423.68" r="5.5" fill="#a9a9ad"/>
<circle cx="754.5" cy="1418.26" r="5.5" fill="#a9a9ad"/>
<circle cx="771" cy="1421.51" r="5.5" fill="#a9a9ad"/>
<polyline points="591.4,1576.1 625.3,1572.48 641.7,1571.58 657.8,1568.32 674.3,1562.54 690.2,1546.99 706.3,1532.34 722.4,1511.01 738.3,1491.66 754.5,1473.22 771,1460.2" fill="none" stroke="#0a850a" stroke-width="1.4"/>
<circle cx="591.4" cy="1576.1" r="5.5" fill="#0a850a"/>
<circle cx="625.3" cy="1572.48" r="5.5" fill="#0a850a"/>
<circle cx="641.7" cy="1571.58" r="5.5" fill="#0a850a"/>
<circle cx="657.8" cy="1568.32" r="5.5" fill="#0a850a"/>
<circle cx="674.3" cy="1562.54" r="5.5" fill="#0a850a"/>
<circle cx="690.2" cy="1546.99" r="5.5" fill="#0a850a"/>
<circle cx="706.3" cy="1532.34" r="5.5" fill="#0a850a"/>
<circle cx="722.4" cy="1511.01" r="5.5" fill="#0a850a"/>
<circle cx="738.3" cy="1491.66" r="5.5" fill="#0a850a"/>
<circle cx="754.5" cy="1473.22" r="5.5" fill="#0a850a"/>
<circle cx="771" cy="1460.2" r="5.5" fill="#0a850a"/>
<polyline points="591.4,1578.08 592.91,1577.96 594.42,1577.83 595.93,1577.69 597.44,1577.54 598.95,1577.38 600.46,1577.21 601.96,1577.02 603.47,1576.82 604.98,1576.61 606.49,1576.37 608,1576.12 609.51,1575.86 611.02,1575.57 612.53,1575.26 614.04,1574.93 615.55,1574.57 617.06,1574.18 618.57,1573.77 620.08,1573.33 621.58,1572.86 623.09,1572.35 624.6,1571.81 626.11,1571.23 627.62,1570.61 629.13,1569.94 630.64,1569.23 632.15,1568.48 633.66,1567.67 635.17,1566.81 636.68,1565.89 638.19,1564.91 639.7,1563.88 641.21,1562.78 642.71,1561.61 644.22,1560.37 645.73,1559.06 647.24,1557.68 648.75,1556.21 650.26,1554.68 651.77,1553.06 653.28,1551.35 654.79,1549.57 656.3,1547.7 657.81,1545.75 659.32,1543.72 660.83,1541.6 662.33,1539.4 663.84,1537.12 665.35,1534.77 666.86,1532.34 668.37,1529.84 669.88,1527.27 671.39,1524.64 672.9,1521.96 674.41,1519.23 675.92,1516.46 677.43,1513.65 678.94,1510.81 680.45,1507.96 681.95,1505.09 683.46,1502.22 684.97,1499.35 686.48,1496.5 687.99,1493.66 689.5,1490.86 691.01,1488.09 692.52,1485.37 694.03,1482.69 695.54,1480.07 697.05,1477.51 698.56,1475.02 700.07,1472.6 701.57,1470.26 703.08,1467.99 704.59,1465.8 706.1,1463.69 707.61,1461.67 709.12,1459.73 710.63,1457.87 712.14,1456.1 713.65,1454.41 715.16,1452.8 716.67,1451.27 718.18,1449.82 719.69,1448.44 721.19,1447.14 722.7,1445.91 724.21,1444.75 725.72,1443.66 727.23,1442.63 728.74,1441.66 730.25,1440.75 731.76,1439.9 733.27,1439.09 734.78,1438.34 736.29,1437.64 737.8,1436.98 739.31,1436.36 740.82,1435.79 742.32,1435.25 743.83,1434.75 745.34,1434.28 746.85,1433.84 748.36,1433.44 749.87,1433.06 751.38,1432.7 752.89,1432.37 754.4,1432.06 755.91,1431.78 757.42,1431.51 758.93,1431.27 760.44,1431.04 761.94,1430.82 763.45,1430.62 764.96,1430.44 766.47,1430.27 767.98,1430.11 769.49,1429.96 771,1429.82" fill="none" stroke="#ff0000" stroke-width="1.4"/>
<circle cx="591.4" cy="1577.9" r="5.5" fill="#ff0000"/>
<circle cx="625.3" cy="1571.21" r="5.5" fill="#ff0000"/>
<circle cx="641.7" cy="1561.81" r="5.5" fill="#ff0000"/>
<circle cx="657.8" cy="1546.99" r="5.5" fill="#ff0000"/>
<circle cx="674.3" cy="1521.68" r="5.5" fill="#ff0000"/>
<circle cx="690.2" cy="1485.88" r="5.5" fill="#ff0000"/>
<circle cx="706.3" cy="1462.19" r="5.5" fill="#ff0000"/>
<circle cx="722.4" cy="1448.99" r="5.5" fill="#ff0000"/>
<circle cx="738.3" cy="1440.32" r="5.5" fill="#ff0000"/>
<circle cx="754.5" cy="1431.46" r="5.5" fill="#ff0000"/>
<circle cx="771" cy="1426.57" r="5.5" fill="#ff0000"/>
<polyline points="591.4,1574.46 592.91,1574.29 594.42,1574.1 595.93,1573.9 597.44,1573.68 598.95,1573.44 600.46,1573.19 601.96,1572.91 603.47,1572.61 604.98,1572.28 606.49,1571.93 608,1571.55 609.51,1571.14 611.02,1570.69 612.53,1570.21 614.04,1569.69 615.55,1569.13 617.06,1568.53 618.57,1567.88 620.08,1567.18 621.58,1566.43 623.09,1565.62 624.6,1564.75 626.11,1563.82 627.62,1562.83 629.13,1561.76 630.64,1560.61 632.15,1559.39 633.66,1558.09 635.17,1556.7 636.68,1555.23 638.19,1553.66 639.7,1552 641.21,1550.24 642.71,1548.39 644.22,1546.43 645.73,1544.37 647.24,1542.21 648.75,1539.94 650.26,1537.58 651.77,1535.12 653.28,1532.56 654.79,1529.9 656.3,1527.16 657.81,1524.33 659.32,1521.43 660.83,1518.46 662.33,1515.43 663.84,1512.34 665.35,1509.21 666.86,1506.04 668.37,1502.86 669.88,1499.66 671.39,1496.46 672.9,1493.27 674.41,1490.1 675.92,1486.96 677.43,1483.87 678.94,1480.82 680.45,1477.84 681.95,1474.92 683.46,1472.08 684.97,1469.32 686.48,1466.65 687.99,1464.07 689.5,1461.58 691.01,1459.2 692.52,1456.91 694.03,1454.73 695.54,1452.65 697.05,1450.68 698.56,1448.8 700.07,1447.02 701.57,1445.34 703.08,1443.75 704.59,1442.26 706.1,1440.86 707.61,1439.54 709.12,1438.3 710.63,1437.14 712.14,1436.06 713.65,1435.05 715.16,1434.1 716.67,1433.22 718.18,1432.4 719.69,1431.64 721.19,1430.93 722.7,1430.27 724.21,1429.66 725.72,1429.09 727.23,1428.57 728.74,1428.08 730.25,1427.63 731.76,1427.21 733.27,1426.82 734.78,1426.47 736.29,1426.13 737.8,1425.83 739.31,1425.55 740.82,1425.28 742.32,1425.04 743.83,1424.82 745.34,1424.62 746.85,1424.43 748.36,1424.25 749.87,1424.09 751.38,1423.94 752.89,1423.8 754.4,1423.68 755.91,1423.56 757.42,1423.45 758.93,1423.36 760.44,1423.26 761.94,1423.18 763.45,1423.1 764.96,1423.03 766.47,1422.97 767.98,1422.91 769.49,1422.85 771,1422.8" fill="none" stroke="#000000" stroke-width="1.5"/>
<circle cx="591.4" cy="1572.66" r="5.5" fill="#000000"/>
<circle cx="625.3" cy="1564.34" r="5.5" fill="#000000"/>
<circle cx="641.7" cy="1552.77" r="5.5" fill="#000000"/>
<circle cx="657.8" cy="1524.93" r="5.5" fill="#000000"/>
<circle cx="674.3" cy="1487.32" r="5.5" fill="#000000"/>
<circle cx="690.2" cy="1458.58" r="5.5" fill="#000000"/>
<circle cx="706.3" cy="1443.57" r="5.5" fill="#000000"/>
<circle cx="722.4" cy="1434.35" r="5.5" fill="#000000"/>
<circle cx="738.3" cy="1428.56" r="5.5" fill="#000000"/>
<circle cx="754.5" cy="1422.78" r="5.5" fill="#000000"/>
<circle cx="771" cy="1416.99" r="5.5" fill="#000000"/>
<line x1="1030.3" y1="1572.9" x2="1294.4" y2="1572.9" stroke="#555" stroke-width="2.4" stroke-linecap="round" stroke-dasharray="0 8.15"/>
<line x1="1030.3" y1="1392.1" x2="1294.4" y2="1392.1" stroke="#555" stroke-width="2.4" stroke-linecap="round" stroke-dasharray="0 8.15"/>
<path d="M1022.3 1346.9V1618.1H1293.4" fill="none" stroke="#262626" stroke-width="2.0" stroke-linecap="square"/>
<path d="M1011.3 1572.9H1022.3M1016.8 1527.7H1022.3M1011.3 1482.5H1022.3M1016.8 1437.3H1022.3M1011.3 1392.1H1022.3M1016.8 1346.9H1022.3M1022.3 1618.1v10.5M1032.5 1618.1v5.5M1038.47 1618.1v5.5M1042.7 1618.1v5.5M1045.99 1618.1v5.5M1048.67 1618.1v5.5M1050.94 1618.1v5.5M1052.9 1618.1v5.5M1054.64 1618.1v5.5M1056.19 1618.1v10.5M1066.39 1618.1v5.5M1072.36 1618.1v5.5M1076.59 1618.1v5.5M1079.87 1618.1v5.5M1082.56 1618.1v5.5M1084.83 1618.1v5.5M1086.79 1618.1v5.5M1088.52 1618.1v5.5M1090.08 1618.1v10.5M1100.28 1618.1v5.5M1106.24 1618.1v5.5M1110.48 1618.1v5.5M1113.76 1618.1v5.5M1116.44 1618.1v5.5M1118.71 1618.1v5.5M1120.68 1618.1v5.5M1122.41 1618.1v5.5M1123.96 1618.1v10.5M1134.16 1618.1v5.5M1140.13 1618.1v5.5M1144.36 1618.1v5.5M1147.65 1618.1v5.5M1150.33 1618.1v5.5M1152.6 1618.1v5.5M1154.57 1618.1v5.5M1156.3 1618.1v5.5M1157.85 1618.1v10.5M1168.05 1618.1v5.5M1174.02 1618.1v5.5M1178.25 1618.1v5.5M1181.54 1618.1v5.5M1184.22 1618.1v5.5M1186.49 1618.1v5.5M1188.45 1618.1v5.5M1190.19 1618.1v5.5M1191.74 1618.1v10.5M1201.94 1618.1v5.5M1207.91 1618.1v5.5M1212.14 1618.1v5.5M1215.42 1618.1v5.5M1218.11 1618.1v5.5M1220.38 1618.1v5.5M1222.34 1618.1v5.5M1224.07 1618.1v5.5M1225.62 1618.1v10.5M1235.83 1618.1v5.5M1241.79 1618.1v5.5M1246.03 1618.1v5.5M1249.31 1618.1v5.5M1251.99 1618.1v5.5M1254.26 1618.1v5.5M1256.23 1618.1v5.5M1257.96 1618.1v5.5M1259.51 1618.1v10.5M1269.71 1618.1v5.5M1275.68 1618.1v5.5M1279.91 1618.1v5.5M1283.2 1618.1v5.5M1285.88 1618.1v5.5M1288.15 1618.1v5.5M1290.12 1618.1v5.5M1291.85 1618.1v5.5M1293.4 1618.1v10.5" fill="none" stroke="#262626" stroke-width="1.8"/>
<text transform="translate(1008.5 1582.2) scale(1 1.04)" text-anchor="end" font-size="26.5">0</text>
<text transform="translate(1008.5 1491.8) scale(1 1.04)" text-anchor="end" font-size="26.5">50</text>
<text transform="translate(1008.5 1401.4) scale(1 1.04)" text-anchor="end" font-size="26.5">100</text>
<text transform="translate(1030.15 1652.65) rotate(-45)" text-anchor="end" font-size="25">10<tspan font-size="16.5" dx="2.5" dy="-9.3">-2</tspan></text>
<text transform="translate(1064.04 1652.65) rotate(-45)" text-anchor="end" font-size="25">10<tspan font-size="16.5" dx="2.5" dy="-9.3">-1</tspan></text>
<text transform="translate(1097.92 1652.65) rotate(-45)" text-anchor="end" font-size="25">10<tspan font-size="16.5" dx="2.5" dy="-9.3">0</tspan></text>
<text transform="translate(1131.81 1652.65) rotate(-45)" text-anchor="end" font-size="25">10<tspan font-size="16.5" dx="2.5" dy="-9.3">1</tspan></text>
<text transform="translate(1165.7 1652.65) rotate(-45)" text-anchor="end" font-size="25">10<tspan font-size="16.5" dx="2.5" dy="-9.3">2</tspan></text>
<text transform="translate(1199.59 1652.65) rotate(-45)" text-anchor="end" font-size="25">10<tspan font-size="16.5" dx="2.5" dy="-9.3">3</tspan></text>
<text transform="translate(1233.47 1652.65) rotate(-45)" text-anchor="end" font-size="25">10<tspan font-size="16.5" dx="2.5" dy="-9.3">4</tspan></text>
<text transform="translate(1267.36 1652.65) rotate(-45)" text-anchor="end" font-size="25">10<tspan font-size="16.5" dx="2.5" dy="-9.3">5</tspan></text>
<text transform="translate(1301.25 1652.65) rotate(-45)" text-anchor="end" font-size="25">10<tspan font-size="16.5" dx="2.5" dy="-9.3">6</tspan></text>
<text x="969.5" y="1325.4" font-weight="bold" font-size="22" letter-spacing="0.52">H3N2 A/Canine/Korea/VC378/2012</text>
<text transform="translate(949.5 1480.5) rotate(-90)" text-anchor="middle" font-size="30.7">% of inhibition</text>
<text x="1179.15" y="1706.8" text-anchor="middle" font-size="30.7">mAb (ng/ml)</text>
<polyline points="1069.8,1571.38 1071.31,1570.94 1072.82,1570.45 1074.33,1569.92 1075.84,1569.35 1077.35,1568.73 1078.86,1568.07 1080.36,1567.34 1081.87,1566.56 1083.38,1565.71 1084.89,1564.8 1086.4,1563.82 1087.91,1562.76 1089.42,1561.63 1090.93,1560.41 1092.44,1559.1 1093.95,1557.7 1095.46,1556.2 1096.97,1554.6 1098.48,1552.9 1099.98,1551.09 1101.49,1549.17 1103,1547.13 1104.51,1544.99 1106.02,1542.72 1107.53,1540.34 1109.04,1537.85 1110.55,1535.25 1112.06,1532.53 1113.57,1529.71 1115.08,1526.8 1116.59,1523.78 1118.1,1520.68 1119.61,1517.51 1121.11,1514.26 1122.62,1510.96 1124.13,1507.62 1125.64,1504.24 1127.15,1500.85 1128.66,1497.44 1130.17,1494.04 1131.68,1490.66 1133.19,1487.32 1134.7,1484.02 1136.21,1480.77 1137.72,1477.59 1139.23,1474.49 1140.73,1471.47 1142.24,1468.55 1143.75,1465.72 1145.26,1463 1146.77,1460.39 1148.28,1457.89 1149.79,1455.51 1151.3,1453.24 1152.81,1451.09 1154.32,1449.05 1155.83,1447.12 1157.34,1445.31 1158.85,1443.6 1160.35,1442 1161.86,1440.49 1163.37,1439.09 1164.88,1437.77 1166.39,1436.55 1167.9,1435.41 1169.41,1434.35 1170.92,1433.36 1172.43,1432.45 1173.94,1431.6 1175.45,1430.81 1176.96,1430.09 1178.47,1429.41 1179.97,1428.79 1181.48,1428.22 1182.99,1427.69 1184.5,1427.2 1186.01,1426.76 1187.52,1426.34 1189.03,1425.96 1190.54,1425.61 1192.05,1425.29 1193.56,1424.99 1195.07,1424.72 1196.58,1424.47 1198.09,1424.24 1199.59,1424.03 1201.1,1423.83 1202.61,1423.66 1204.12,1423.49 1205.63,1423.34 1207.14,1423.2 1208.65,1423.08 1210.16,1422.96 1211.67,1422.86 1213.18,1422.76 1214.69,1422.67 1216.2,1422.59 1217.71,1422.51 1219.22,1422.44 1220.72,1422.38 1222.23,1422.32 1223.74,1422.27 1225.25,1422.22 1226.76,1422.18 1228.27,1422.14 1229.78,1422.1 1231.29,1422.07 1232.8,1422.03 1234.31,1422.01 1235.82,1421.98 1237.33,1421.96 1238.84,1421.93 1240.34,1421.91 1241.85,1421.89 1243.36,1421.88 1244.87,1421.86 1246.38,1421.85 1247.89,1421.84 1249.4,1421.82" fill="none" stroke="#a9a9ad" stroke-width="1.4"/>
<circle cx="1069.8" cy="1570.19" r="5.5" fill="#a9a9ad"/>
<circle cx="1103.8" cy="1548.31" r="5.5" fill="#a9a9ad"/>
<circle cx="1119.9" cy="1516.67" r="5.5" fill="#a9a9ad"/>
<circle cx="1136.2" cy="1478.88" r="5.5" fill="#a9a9ad"/>
<circle cx="1152.3" cy="1450.86" r="5.5" fill="#a9a9ad"/>
<circle cx="1168.4" cy="1438.2" r="5.5" fill="#a9a9ad"/>
<circle cx="1184.8" cy="1430.07" r="5.5" fill="#a9a9ad"/>
<circle cx="1200.9" cy="1422.29" r="5.5" fill="#a9a9ad"/>
<circle cx="1216.8" cy="1421.75" r="5.5" fill="#a9a9ad"/>
<circle cx="1233.3" cy="1421.03" r="5.5" fill="#a9a9ad"/>
<circle cx="1249.4" cy="1421.03" r="5.5" fill="#a9a9ad"/>
<polyline points="1069.8,1574.64 1071.31,1574.62 1072.82,1574.6 1074.33,1574.58 1075.84,1574.55 1077.35,1574.53 1078.86,1574.5 1080.36,1574.47 1081.87,1574.44 1083.38,1574.4 1084.89,1574.37 1086.4,1574.33 1087.91,1574.29 1089.42,1574.24 1090.93,1574.2 1092.44,1574.15 1093.95,1574.09 1095.46,1574.04 1096.97,1573.97 1098.48,1573.91 1099.98,1573.84 1101.49,1573.76 1103,1573.68 1104.51,1573.6 1106.02,1573.5 1107.53,1573.41 1109.04,1573.3 1110.55,1573.19 1112.06,1573.07 1113.57,1572.94 1115.08,1572.8 1116.59,1572.66 1118.1,1572.5 1119.61,1572.34 1121.11,1572.16 1122.62,1571.97 1124.13,1571.77 1125.64,1571.55 1127.15,1571.32 1128.66,1571.08 1130.17,1570.82 1131.68,1570.54 1133.19,1570.24 1134.7,1569.93 1136.21,1569.59 1137.72,1569.23 1139.23,1568.85 1140.73,1568.45 1142.24,1568.02 1143.75,1567.56 1145.26,1567.08 1146.77,1566.56 1148.28,1566.01 1149.79,1565.43 1151.3,1564.82 1152.81,1564.17 1154.32,1563.48 1155.83,1562.75 1157.34,1561.97 1158.85,1561.16 1160.35,1560.3 1161.86,1559.39 1163.37,1558.44 1164.88,1557.43 1166.39,1556.37 1167.9,1555.26 1169.41,1554.1 1170.92,1552.88 1172.43,1551.6 1173.94,1550.26 1175.45,1548.86 1176.96,1547.41 1178.47,1545.89 1179.97,1544.32 1181.48,1542.69 1182.99,1540.99 1184.5,1539.24 1186.01,1537.43 1187.52,1535.57 1189.03,1533.65 1190.54,1531.68 1192.05,1529.66 1193.56,1527.6 1195.07,1525.49 1196.58,1523.34 1198.09,1521.16 1199.59,1518.95 1201.1,1516.71 1202.61,1514.45 1204.12,1512.18 1205.63,1509.89 1207.14,1507.59 1208.65,1505.3 1210.16,1503.01 1211.67,1500.72 1213.18,1498.46 1214.69,1496.21 1216.2,1493.98 1217.71,1491.79 1219.22,1489.63 1220.72,1487.5 1222.23,1485.42 1223.74,1483.38 1225.25,1481.39 1226.76,1479.45 1228.27,1477.56 1229.78,1475.72 1231.29,1473.95 1232.8,1472.23 1234.31,1470.57 1235.82,1468.97 1237.33,1467.43 1238.84,1465.94 1240.34,1464.52 1241.85,1463.16 1243.36,1461.85 1244.87,1460.61 1246.38,1459.42 1247.89,1458.28 1249.4,1457.2" fill="none" stroke="#0a850a" stroke-width="1.4"/>
<path d="M1216.8 1506.37V1489.01M1210.3 1506.37h13M1210.3 1489.01h13" stroke="#0a850a" stroke-width="1.8" fill="none"/>
<circle cx="1069.8" cy="1572.36" r="5.5" fill="#0a850a"/>
<circle cx="1103.8" cy="1572" r="5.5" fill="#0a850a"/>
<circle cx="1119.9" cy="1572" r="5.5" fill="#0a850a"/>
<circle cx="1136.2" cy="1574.35" r="5.5" fill="#0a850a"/>
<circle cx="1152.3" cy="1565.13" r="5.5" fill="#0a850a"/>
<circle cx="1168.4" cy="1555.54" r="5.5" fill="#0a850a"/>
<circle cx="1184.8" cy="1537.46" r="5.5" fill="#0a850a"/>
<circle cx="1200.9" cy="1513.42" r="5.5" fill="#0a850a"/>
<circle cx="1216.8" cy="1497.33" r="5.5" fill="#0a850a"/>
<circle cx="1233.3" cy="1471.47" r="5.5" fill="#0a850a"/>
<circle cx="1249.4" cy="1456.28" r="5.5" fill="#0a850a"/>
<polyline points="1069.8,1570.64 1071.31,1570.58 1072.82,1570.51 1074.33,1570.44 1075.84,1570.36 1077.35,1570.28 1078.86,1570.19 1080.36,1570.09 1081.87,1569.98 1083.38,1569.87 1084.89,1569.74 1086.4,1569.6 1087.91,1569.45 1089.42,1569.29 1090.93,1569.11 1092.44,1568.92 1093.95,1568.72 1095.46,1568.49 1096.97,1568.25 1098.48,1567.99 1099.98,1567.7 1101.49,1567.39 1103,1567.06 1104.51,1566.7 1106.02,1566.3 1107.53,1565.88 1109.04,1565.42 1110.55,1564.93 1112.06,1564.4 1113.57,1563.82 1115.08,1563.2 1116.59,1562.53 1118.1,1561.82 1119.61,1561.04 1121.11,1560.21 1122.62,1559.32 1124.13,1558.37 1125.64,1557.34 1127.15,1556.25 1128.66,1555.08 1130.17,1553.83 1131.68,1552.5 1133.19,1551.08 1134.7,1549.58 1136.21,1547.98 1137.72,1546.3 1139.23,1544.52 1140.73,1542.64 1142.24,1540.66 1143.75,1538.59 1145.26,1536.43 1146.77,1534.16 1148.28,1531.81 1149.79,1529.36 1151.3,1526.82 1152.81,1524.21 1154.32,1521.52 1155.83,1518.75 1157.34,1515.93 1158.85,1513.05 1160.35,1510.13 1161.86,1507.17 1163.37,1504.18 1164.88,1501.17 1166.39,1498.16 1167.9,1495.16 1169.41,1492.17 1170.92,1489.21 1172.43,1486.28 1173.94,1483.4 1175.45,1480.57 1176.96,1477.8 1178.47,1475.11 1179.97,1472.48 1181.48,1469.95 1182.99,1467.49 1184.5,1465.13 1186.01,1462.86 1187.52,1460.69 1189.03,1458.61 1190.54,1456.63 1192.05,1454.74 1193.56,1452.95 1195.07,1451.26 1196.58,1449.66 1198.09,1448.15 1199.59,1446.73 1201.1,1445.39 1202.61,1444.14 1204.12,1442.96 1205.63,1441.86 1207.14,1440.83 1208.65,1439.87 1210.16,1438.98 1211.67,1438.14 1213.18,1437.37 1214.69,1436.64 1216.2,1435.97 1217.71,1435.35 1219.22,1434.77 1220.72,1434.24 1222.23,1433.74 1223.74,1433.28 1225.25,1432.86 1226.76,1432.46 1228.27,1432.1 1229.78,1431.76 1231.29,1431.45 1232.8,1431.16 1234.31,1430.9 1235.82,1430.66 1237.33,1430.43 1238.84,1430.22 1240.34,1430.03 1241.85,1429.85 1243.36,1429.69 1244.87,1429.54 1246.38,1429.4 1247.89,1429.27 1249.4,1429.16" fill="none" stroke="#ff0000" stroke-width="1.4"/>
<circle cx="1069.8" cy="1566.03" r="5.5" fill="#ff0000"/>
<circle cx="1103.8" cy="1569.1" r="5.5" fill="#ff0000"/>
<circle cx="1119.9" cy="1563.14" r="5.5" fill="#ff0000"/>
<circle cx="1136.2" cy="1550.3" r="5.5" fill="#ff0000"/>
<circle cx="1152.3" cy="1523.9" r="5.5" fill="#ff0000"/>
<circle cx="1168.4" cy="1491.54" r="5.5" fill="#ff0000"/>
<circle cx="1184.8" cy="1464.06" r="5.5" fill="#ff0000"/>
<circle cx="1200.9" cy="1449.23" r="5.5" fill="#ff0000"/>
<circle cx="1216.8" cy="1439.11" r="5.5" fill="#ff0000"/>
<circle cx="1233.3" cy="1430.43" r="5.5" fill="#ff0000"/>
<circle cx="1249.4" cy="1425.01" r="5.5" fill="#ff0000"/>
<polyline points="1069.8,1573.52 1071.31,1573.4 1072.82,1573.26 1074.33,1573.12 1075.84,1572.95 1077.35,1572.78 1078.86,1572.59 1080.36,1572.38 1081.87,1572.15 1083.38,1571.9 1084.89,1571.63 1086.4,1571.33 1087.91,1571.01 1089.42,1570.66 1090.93,1570.27 1092.44,1569.86 1093.95,1569.41 1095.46,1568.92 1096.97,1568.38 1098.48,1567.81 1099.98,1567.18 1101.49,1566.5 1103,1565.76 1104.51,1564.97 1106.02,1564.1 1107.53,1563.17 1109.04,1562.17 1110.55,1561.09 1112.06,1559.93 1113.57,1558.68 1115.08,1557.34 1116.59,1555.9 1118.1,1554.36 1119.61,1552.72 1121.11,1550.97 1122.62,1549.11 1124.13,1547.14 1125.64,1545.04 1127.15,1542.83 1128.66,1540.51 1130.17,1538.06 1131.68,1535.5 1133.19,1532.82 1134.7,1530.03 1136.21,1527.13 1137.72,1524.14 1139.23,1521.05 1140.73,1517.87 1142.24,1514.63 1143.75,1511.31 1145.26,1507.94 1146.77,1504.54 1148.28,1501.1 1149.79,1497.65 1151.3,1494.21 1152.81,1490.77 1154.32,1487.36 1155.83,1483.99 1157.34,1480.68 1158.85,1477.43 1160.35,1474.25 1161.86,1471.16 1163.37,1468.16 1164.88,1465.26 1166.39,1462.47 1167.9,1459.79 1169.41,1457.23 1170.92,1454.78 1172.43,1452.45 1173.94,1450.23 1175.45,1448.14 1176.96,1446.16 1178.47,1444.3 1179.97,1442.55 1181.48,1440.9 1182.99,1439.36 1184.5,1437.92 1186.01,1436.58 1187.52,1435.33 1189.03,1434.16 1190.54,1433.08 1192.05,1432.08 1193.56,1431.14 1195.07,1430.28 1196.58,1429.48 1198.09,1428.75 1199.59,1428.07 1201.1,1427.44 1202.61,1426.86 1204.12,1426.32 1205.63,1425.83 1207.14,1425.38 1208.65,1424.96 1210.16,1424.58 1211.67,1424.23 1213.18,1423.91 1214.69,1423.61 1216.2,1423.34 1217.71,1423.09 1219.22,1422.86 1220.72,1422.65 1222.23,1422.45 1223.74,1422.28 1225.25,1422.12 1226.76,1421.97 1228.27,1421.83 1229.78,1421.71 1231.29,1421.59 1232.8,1421.49 1234.31,1421.39 1235.82,1421.3 1237.33,1421.22 1238.84,1421.15 1240.34,1421.08 1241.85,1421.02 1243.36,1420.97 1244.87,1420.91 1246.38,1420.87 1247.89,1420.82 1249.4,1420.78" fill="none" stroke="#000000" stroke-width="1.5"/>
<path d="M1103.8 1563.14V1556.45M1097.3 1556.45h13" stroke="#000000" stroke-width="1.8" fill="none"/>
<circle cx="1069.8" cy="1572.36" r="5.5" fill="#000000"/>
<circle cx="1103.8" cy="1563.14" r="5.5" fill="#000000"/>
<circle cx="1119.9" cy="1557.35" r="5.5" fill="#000000"/>
<circle cx="1136.2" cy="1527.34" r="5.5" fill="#000000"/>
<circle cx="1152.3" cy="1489.55" r="5.5" fill="#000000"/>
<circle cx="1168.4" cy="1456.28" r="5.5" fill="#000000"/>
<circle cx="1184.8" cy="1441.1" r="5.5" fill="#000000"/>
<circle cx="1200.9" cy="1432.06" r="5.5" fill="#000000"/>
<circle cx="1216.8" cy="1426.27" r="5.5" fill="#000000"/>
<circle cx="1233.3" cy="1418.86" r="5.5" fill="#000000"/>
<circle cx="1249.4" cy="1415.6" r="5.5" fill="#000000"/>
<line x1="445.6" y1="189.9" x2="476.9" y2="189.9" stroke="#000000" stroke-width="1.8"/>
<circle cx="461.2" cy="189.9" r="7.2" fill="#000000"/>
<text x="494.3" y="200.2" font-size="29">FNI9</text>
<line x1="445.6" y1="233.9" x2="476.9" y2="233.9" stroke="#ff0000" stroke-width="1.8"/>
<circle cx="461.2" cy="233.9" r="7.2" fill="#ff0000"/>
<text x="494.3" y="244.2" font-size="29">FNI17</text>
<line x1="445.6" y1="278.0" x2="476.9" y2="278.0" stroke="#0a850a" stroke-width="1.8"/>
<circle cx="461.2" cy="278.0" r="7.2" fill="#0a850a"/>
<text x="494.3" y="288.3" font-size="29">FNI19</text>
<line x1="445.6" y1="322.5" x2="476.9" y2="322.5" stroke="#a9a9ad" stroke-width="1.8"/>
<circle cx="461.2" cy="322.5" r="7.2" fill="#a9a9ad"/>
<text x="494.3" y="332.8" font-size="29">1G01</text>
<text transform="translate(0 20.4) scale(1 1.02)" font-weight="bold" font-size="34">a</text>
<text transform="translate(0 470.6) scale(1 1.02)" font-weight="bold" font-size="34">b</text>
<text transform="translate(0 904) scale(1 1.02)" font-weight="bold" font-size="34">c</text>
</svg>
</body></html>
